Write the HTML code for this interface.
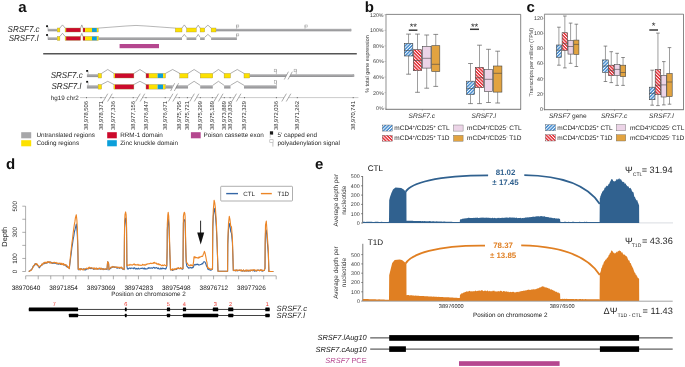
<!DOCTYPE html>
<html><head><meta charset="utf-8"><style>
html,body{margin:0;padding:0;background:#fff;}
body{width:685px;height:367px;overflow:hidden;}
svg{display:block;font-family:"Liberation Sans", sans-serif;text-rendering:geometricPrecision;will-change:transform;}
</style></head><body>
<svg width="685" height="367" viewBox="0 0 685 367">
<text x="18.20" y="12.00" font-size="15" fill="#111" text-anchor="start" font-weight="bold" font-style="normal">a</text>
<text x="364.80" y="11.60" font-size="15" fill="#111" text-anchor="start" font-weight="bold" font-style="normal">b</text>
<text x="526.40" y="11.50" font-size="15" fill="#111" text-anchor="start" font-weight="bold" font-style="normal">c</text>
<text x="6.00" y="168.90" font-size="15" fill="#111" text-anchor="start" font-weight="bold" font-style="normal">d</text>
<text x="314.90" y="168.90" font-size="15" fill="#111" text-anchor="start" font-weight="bold" font-style="normal">e</text>
<defs><linearGradient id="gu" x1="0" y1="0" x2="0" y2="1"><stop offset="0" stop-color="#b0b0b2"/><stop offset="0.55" stop-color="#a2a2a4"/><stop offset="1" stop-color="#8c8c8f"/></linearGradient></defs>
<text transform="translate(39.6,32.4) scale(0.93,1)" font-size="8.6" fill="#1f1f1f" text-anchor="end" font-style="italic">SRSF7.c</text>
<rect x="46.10" y="25.30" width="1.90" height="1.80" fill="#111"/>
<line x1="48.00" y1="26.70" x2="48.00" y2="31.20" stroke="#888" stroke-width="0.5"/>
<rect x="48.00" y="28.80" width="9.30" height="2.50" fill="url(#gu)"/>
<rect x="57.30" y="28.00" width="2.60" height="4.00" fill="#fde100"/>
<rect x="57.30" y="28.00" width="2.60" height="4.00" fill="none" stroke="#9a8a40" stroke-width="0.35"/>
<polyline points="59.90,28.00 62.50,24.90 65.10,28.00" fill="none" stroke="#7a7a7a" stroke-width="0.6"/>
<rect x="65.10" y="28.00" width="1.00" height="4.00" fill="#fde100"/>
<rect x="66.10" y="28.00" width="14.50" height="4.00" fill="#cc0a2c"/>
<rect x="65.10" y="28.00" width="15.50" height="4.00" fill="none" stroke="#9a8a40" stroke-width="0.35"/>
<polyline points="80.60,28.00 81.80,24.90 83.00,28.00" fill="none" stroke="#7a7a7a" stroke-width="0.6"/>
<rect x="83.00" y="28.00" width="2.10" height="4.00" fill="#cc0a2c"/>
<rect x="85.10" y="28.00" width="6.90" height="4.00" fill="#fde100"/>
<rect x="92.00" y="28.00" width="4.90" height="4.00" fill="#0b9fda"/>
<rect x="96.90" y="28.00" width="1.40" height="4.00" fill="#fde100"/>
<rect x="83.00" y="28.00" width="15.30" height="4.00" fill="none" stroke="#9a8a40" stroke-width="0.35"/>
<path d="M98.3,28.1 L126,26.0 Q136,24.9 146,26.0 L175.3,28.1" fill="none" stroke="#7a7a7a" stroke-width="0.55"/>
<rect x="175.30" y="28.00" width="6.70" height="4.00" fill="#fde100"/>
<rect x="175.30" y="28.00" width="6.70" height="4.00" fill="none" stroke="#9a8a40" stroke-width="0.35"/>
<polyline points="182.00,28.00 184.30,24.90 186.60,28.00" fill="none" stroke="#7a7a7a" stroke-width="0.6"/>
<rect x="186.60" y="28.00" width="9.70" height="4.00" fill="#fde100"/>
<rect x="186.60" y="28.00" width="9.70" height="4.00" fill="none" stroke="#9a8a40" stroke-width="0.35"/>
<polyline points="196.30,28.00 198.20,25.20 200.10,28.00" fill="none" stroke="#7a7a7a" stroke-width="0.6"/>
<rect x="200.10" y="28.00" width="4.60" height="4.00" fill="#fde100"/>
<rect x="200.10" y="28.00" width="4.60" height="4.00" fill="none" stroke="#9a8a40" stroke-width="0.35"/>
<polyline points="204.70,28.00 207.90,25.20 211.10,28.00" fill="none" stroke="#7a7a7a" stroke-width="0.6"/>
<rect x="211.10" y="28.00" width="4.90" height="4.00" fill="#fde100"/>
<rect x="211.10" y="28.00" width="4.90" height="4.00" fill="none" stroke="#9a8a40" stroke-width="0.35"/>
<rect x="216.00" y="28.80" width="135.30" height="2.50" fill="url(#gu)"/>
<rect x="349.5" y="28.8" width="1.8" height="2.5" rx="1" fill="#a7a7a9"/>
<line x1="236.60" y1="25.30" x2="236.60" y2="28.80" stroke="#888" stroke-width="0.5"/>
<rect x="236.60" y="25.00" width="2.20" height="2.00" fill="none" stroke="#999" stroke-width="0.5"/>
<line x1="305.00" y1="25.30" x2="305.00" y2="28.80" stroke="#888" stroke-width="0.5"/>
<rect x="305.00" y="25.00" width="2.20" height="2.00" fill="none" stroke="#999" stroke-width="0.5"/>
<text transform="translate(38.5,41.0) scale(0.93,1)" font-size="8.6" fill="#1f1f1f" text-anchor="end" font-style="italic">SRSF7.l</text>
<rect x="46.10" y="34.10" width="1.90" height="1.80" fill="#111"/>
<line x1="48.00" y1="35.50" x2="48.00" y2="39.70" stroke="#888" stroke-width="0.5"/>
<rect x="48.00" y="37.30" width="9.30" height="2.60" fill="url(#gu)"/>
<rect x="57.30" y="36.40" width="2.60" height="4.00" fill="#fde100"/>
<rect x="57.30" y="36.40" width="2.60" height="4.00" fill="none" stroke="#9a8a40" stroke-width="0.35"/>
<polyline points="59.90,36.40 62.50,33.30 65.10,36.40" fill="none" stroke="#7a7a7a" stroke-width="0.6"/>
<rect x="65.10" y="36.40" width="1.00" height="4.00" fill="#fde100"/>
<rect x="66.10" y="36.40" width="14.50" height="4.00" fill="#cc0a2c"/>
<rect x="65.10" y="36.40" width="15.50" height="4.00" fill="none" stroke="#9a8a40" stroke-width="0.35"/>
<polyline points="80.60,36.40 81.80,33.30 83.00,36.40" fill="none" stroke="#7a7a7a" stroke-width="0.6"/>
<rect x="83.00" y="36.40" width="2.10" height="4.00" fill="#cc0a2c"/>
<rect x="85.10" y="36.40" width="6.90" height="4.00" fill="#fde100"/>
<rect x="92.00" y="36.40" width="4.90" height="4.00" fill="#0b9fda"/>
<rect x="96.90" y="36.40" width="1.70" height="4.00" fill="#fde100"/>
<rect x="83.00" y="36.40" width="15.60" height="4.00" fill="none" stroke="#9a8a40" stroke-width="0.35"/>
<rect x="98.60" y="37.30" width="83.40" height="2.60" fill="url(#gu)"/>
<polyline points="182.00,37.30 184.30,34.40 186.60,37.30" fill="none" stroke="#7a7a7a" stroke-width="0.6"/>
<rect x="186.60" y="37.30" width="9.70" height="2.60" fill="url(#gu)"/>
<polyline points="196.30,37.30 198.20,34.40 200.10,37.30" fill="none" stroke="#7a7a7a" stroke-width="0.6"/>
<rect x="200.10" y="37.30" width="4.60" height="2.60" fill="url(#gu)"/>
<polyline points="204.70,37.30 207.90,34.40 211.10,37.30" fill="none" stroke="#7a7a7a" stroke-width="0.6"/>
<rect x="211.10" y="37.30" width="25.80" height="2.60" fill="url(#gu)"/>
<line x1="236.60" y1="34.20" x2="236.60" y2="37.30" stroke="#888" stroke-width="0.5"/>
<rect x="236.60" y="33.90" width="2.20" height="2.00" fill="none" stroke="#999" stroke-width="0.5"/>
<rect x="119.60" y="44.00" width="39.40" height="4.20" fill="#b5478f"/>
<line x1="43.20" y1="53.70" x2="356.80" y2="53.70" stroke="#555" stroke-width="1.6"/>
<text transform="translate(82.7,78.4) scale(0.93,1)" font-size="8.6" fill="#1f1f1f" text-anchor="end" font-style="italic">SRSF7.c</text>
<text transform="translate(81.3,89.3) scale(0.93,1)" font-size="8.6" fill="#1f1f1f" text-anchor="end" font-style="italic">SRSF7.l</text>
<text x="50.80" y="99.60" font-size="6.3" fill="#2a2a2a" text-anchor="start" font-weight="normal" font-style="normal">hg19 chr2</text>
<rect x="86.20" y="70.00" width="1.90" height="1.80" fill="#111"/>
<line x1="88.10" y1="71.40" x2="88.10" y2="76.60" stroke="#888" stroke-width="0.5"/>
<rect x="86.90" y="74.20" width="11.20" height="2.90" fill="url(#gu)"/>
<rect x="98.10" y="73.40" width="3.50" height="4.60" fill="#fde100"/>
<rect x="98.10" y="73.40" width="3.50" height="4.60" fill="none" stroke="#9a8a40" stroke-width="0.35"/>
<polyline points="101.60,73.40 107.75,69.50 113.90,73.40" fill="none" stroke="#7a7a7a" stroke-width="0.6"/>
<rect x="113.90" y="73.40" width="1.10" height="4.60" fill="#fde100"/>
<rect x="115.00" y="73.40" width="18.90" height="4.60" fill="#cc0a2c"/>
<rect x="113.90" y="73.40" width="20.00" height="4.60" fill="none" stroke="#9a8a40" stroke-width="0.35"/>
<polyline points="133.90,73.40 139.95,69.50 146.00,73.40" fill="none" stroke="#7a7a7a" stroke-width="0.6"/>
<rect x="146.00" y="73.40" width="2.90" height="4.60" fill="#cc0a2c"/>
<rect x="148.90" y="73.40" width="8.70" height="4.60" fill="#fde100"/>
<rect x="157.60" y="73.40" width="5.50" height="4.60" fill="#0b9fda"/>
<rect x="163.10" y="73.40" width="2.40" height="4.60" fill="#fde100"/>
<rect x="146.00" y="73.40" width="19.50" height="4.60" fill="none" stroke="#9a8a40" stroke-width="0.35"/>
<polyline points="165.50,73.40 172.65,69.50 179.80,73.40" fill="none" stroke="#7a7a7a" stroke-width="0.6"/>
<rect x="179.80" y="73.40" width="8.20" height="4.60" fill="#fde100"/>
<rect x="179.80" y="73.40" width="8.20" height="4.60" fill="none" stroke="#9a8a40" stroke-width="0.35"/>
<polyline points="188.00,73.40 194.10,69.50 200.20,73.40" fill="none" stroke="#7a7a7a" stroke-width="0.6"/>
<rect x="200.20" y="73.40" width="12.60" height="4.60" fill="#fde100"/>
<rect x="200.20" y="73.40" width="12.60" height="4.60" fill="none" stroke="#9a8a40" stroke-width="0.35"/>
<polyline points="212.80,73.40 218.45,69.50 224.10,73.40" fill="none" stroke="#7a7a7a" stroke-width="0.6"/>
<rect x="224.10" y="73.40" width="6.40" height="4.60" fill="#fde100"/>
<rect x="224.10" y="73.40" width="6.40" height="4.60" fill="none" stroke="#9a8a40" stroke-width="0.35"/>
<polyline points="230.50,73.40 237.25,69.50 244.00,73.40" fill="none" stroke="#7a7a7a" stroke-width="0.6"/>
<rect x="244.00" y="73.40" width="5.80" height="4.60" fill="#fde100"/>
<rect x="244.00" y="73.40" width="5.80" height="4.60" fill="none" stroke="#9a8a40" stroke-width="0.35"/>
<polygon points="249.8,74.20 287.0,74.20 285.6,77.10 249.8,77.10" fill="url(#gu)"/>
<polygon points="290.8,74.20 354.2,74.20 354.2,77.10 289.4,77.10" fill="url(#gu)"/>
<rect x="352.4" y="74.2" width="1.8" height="2.8" rx="1" fill="#a7a7a9"/>
<line x1="284.30" y1="79.50" x2="288.40" y2="71.70" stroke="#666" stroke-width="0.55"/>
<line x1="288.00" y1="79.50" x2="292.30" y2="71.70" stroke="#666" stroke-width="0.55"/>
<line x1="276.40" y1="69.50" x2="276.40" y2="74.20" stroke="#888" stroke-width="0.5"/>
<rect x="274.20" y="69.20" width="2.20" height="2.60" fill="none" stroke="#999" stroke-width="0.5"/>
<line x1="296.30" y1="69.50" x2="296.30" y2="74.20" stroke="#888" stroke-width="0.5"/>
<rect x="294.10" y="69.20" width="2.20" height="2.60" fill="none" stroke="#999" stroke-width="0.5"/>
<rect x="86.20" y="80.90" width="1.90" height="1.80" fill="#111"/>
<line x1="88.10" y1="82.30" x2="88.10" y2="87.70" stroke="#888" stroke-width="0.5"/>
<rect x="86.90" y="85.30" width="11.20" height="3.20" fill="url(#gu)"/>
<rect x="98.10" y="84.50" width="3.50" height="4.60" fill="#fde100"/>
<rect x="98.10" y="84.50" width="3.50" height="4.60" fill="none" stroke="#9a8a40" stroke-width="0.35"/>
<polyline points="101.60,84.50 107.75,81.30 113.90,84.50" fill="none" stroke="#7a7a7a" stroke-width="0.6"/>
<rect x="113.90" y="84.50" width="1.10" height="4.60" fill="#fde100"/>
<rect x="115.00" y="84.50" width="18.90" height="4.60" fill="#cc0a2c"/>
<rect x="113.90" y="84.50" width="20.00" height="4.60" fill="none" stroke="#9a8a40" stroke-width="0.35"/>
<polyline points="133.90,84.50 139.95,81.30 146.00,84.50" fill="none" stroke="#7a7a7a" stroke-width="0.6"/>
<rect x="146.00" y="84.50" width="2.90" height="4.60" fill="#cc0a2c"/>
<rect x="148.90" y="84.50" width="8.70" height="4.60" fill="#fde100"/>
<rect x="157.60" y="84.50" width="5.50" height="4.60" fill="#0b9fda"/>
<rect x="163.10" y="84.50" width="2.40" height="4.60" fill="#fde100"/>
<rect x="146.00" y="84.50" width="19.50" height="4.60" fill="none" stroke="#9a8a40" stroke-width="0.35"/>
<polygon points="165.5,85.30 173.0,85.30 171.6,88.50 165.5,88.50" fill="url(#gu)"/>
<polygon points="176.8,85.30 188.0,85.30 188.0,88.50 175.4,88.50" fill="url(#gu)"/>
<line x1="170.60" y1="91.00" x2="174.70" y2="83.20" stroke="#666" stroke-width="0.55"/>
<line x1="174.30" y1="91.00" x2="178.60" y2="83.20" stroke="#666" stroke-width="0.55"/>
<polyline points="188.00,85.30 194.10,81.30 200.20,85.30" fill="none" stroke="#7a7a7a" stroke-width="0.6"/>
<rect x="200.20" y="85.30" width="12.60" height="3.20" fill="url(#gu)"/>
<polyline points="212.80,85.30 218.45,81.30 224.10,85.30" fill="none" stroke="#7a7a7a" stroke-width="0.6"/>
<rect x="224.10" y="85.30" width="6.40" height="3.20" fill="url(#gu)"/>
<polyline points="230.50,85.30 237.25,81.30 244.00,85.30" fill="none" stroke="#7a7a7a" stroke-width="0.6"/>
<rect x="244.00" y="85.30" width="32.80" height="3.20" fill="url(#gu)"/>
<line x1="276.50" y1="80.90" x2="276.50" y2="85.30" stroke="#888" stroke-width="0.5"/>
<rect x="274.30" y="80.60" width="2.20" height="2.60" fill="none" stroke="#999" stroke-width="0.5"/>
<line x1="80.00" y1="97.60" x2="105.50" y2="97.60" stroke="#b5b5b5" stroke-width="0.7"/>
<line x1="109.90" y1="97.60" x2="138.00" y2="97.60" stroke="#b5b5b5" stroke-width="0.7"/>
<line x1="142.40" y1="97.60" x2="170.70" y2="97.60" stroke="#b5b5b5" stroke-width="0.7"/>
<line x1="175.10" y1="97.60" x2="192.10" y2="97.60" stroke="#b5b5b5" stroke-width="0.7"/>
<line x1="196.50" y1="97.60" x2="216.30" y2="97.60" stroke="#b5b5b5" stroke-width="0.7"/>
<line x1="220.70" y1="97.60" x2="234.20" y2="97.60" stroke="#b5b5b5" stroke-width="0.7"/>
<line x1="238.60" y1="97.60" x2="284.10" y2="97.60" stroke="#b5b5b5" stroke-width="0.7"/>
<line x1="288.50" y1="97.60" x2="358.40" y2="97.60" stroke="#b5b5b5" stroke-width="0.7"/>
<line x1="103.15" y1="101.50" x2="107.75" y2="93.70" stroke="#555" stroke-width="0.5"/>
<line x1="107.65" y1="101.50" x2="112.25" y2="93.70" stroke="#555" stroke-width="0.5"/>
<line x1="135.65" y1="101.50" x2="140.25" y2="93.70" stroke="#555" stroke-width="0.5"/>
<line x1="140.15" y1="101.50" x2="144.75" y2="93.70" stroke="#555" stroke-width="0.5"/>
<line x1="168.35" y1="101.50" x2="172.95" y2="93.70" stroke="#555" stroke-width="0.5"/>
<line x1="172.85" y1="101.50" x2="177.45" y2="93.70" stroke="#555" stroke-width="0.5"/>
<line x1="189.75" y1="101.50" x2="194.35" y2="93.70" stroke="#555" stroke-width="0.5"/>
<line x1="194.25" y1="101.50" x2="198.85" y2="93.70" stroke="#555" stroke-width="0.5"/>
<line x1="213.95" y1="101.50" x2="218.55" y2="93.70" stroke="#555" stroke-width="0.5"/>
<line x1="218.45" y1="101.50" x2="223.05" y2="93.70" stroke="#555" stroke-width="0.5"/>
<line x1="231.85" y1="101.50" x2="236.45" y2="93.70" stroke="#555" stroke-width="0.5"/>
<line x1="236.35" y1="101.50" x2="240.95" y2="93.70" stroke="#555" stroke-width="0.5"/>
<line x1="281.75" y1="101.50" x2="286.35" y2="93.70" stroke="#555" stroke-width="0.5"/>
<line x1="286.25" y1="101.50" x2="290.85" y2="93.70" stroke="#555" stroke-width="0.5"/>
<rect x="86.00" y="97.10" width="1.00" height="1.10" fill="#666"/>
<text transform="translate(88.00,101) rotate(-90)" font-size="5.8" fill="#2a2a2a" text-anchor="end">38,978,506</text>
<rect x="100.50" y="97.10" width="1.00" height="1.10" fill="#666"/>
<text transform="translate(102.50,101) rotate(-90)" font-size="5.8" fill="#2a2a2a" text-anchor="end">38,978,371</text>
<rect x="112.50" y="97.10" width="1.00" height="1.10" fill="#666"/>
<text transform="translate(114.50,101) rotate(-90)" font-size="5.8" fill="#2a2a2a" text-anchor="end">38,977,336</text>
<rect x="132.70" y="97.10" width="1.00" height="1.10" fill="#666"/>
<text transform="translate(134.70,101) rotate(-90)" font-size="5.8" fill="#2a2a2a" text-anchor="end">38,977,156</text>
<rect x="145.50" y="97.10" width="1.00" height="1.10" fill="#666"/>
<text transform="translate(147.50,101) rotate(-90)" font-size="5.8" fill="#2a2a2a" text-anchor="end">38,976,847</text>
<rect x="164.70" y="97.10" width="1.00" height="1.10" fill="#666"/>
<text transform="translate(166.70,101) rotate(-90)" font-size="5.8" fill="#2a2a2a" text-anchor="end">38,976,671</text>
<rect x="178.70" y="97.10" width="1.00" height="1.10" fill="#666"/>
<text transform="translate(180.70,101) rotate(-90)" font-size="5.8" fill="#2a2a2a" text-anchor="end">38,975,795</text>
<rect x="186.90" y="97.10" width="1.00" height="1.10" fill="#666"/>
<text transform="translate(188.90,101) rotate(-90)" font-size="5.8" fill="#2a2a2a" text-anchor="end">38,975,721</text>
<rect x="199.80" y="97.10" width="1.00" height="1.10" fill="#666"/>
<text transform="translate(201.80,101) rotate(-90)" font-size="5.8" fill="#2a2a2a" text-anchor="end">38,975,299</text>
<rect x="211.80" y="97.10" width="1.00" height="1.10" fill="#666"/>
<text transform="translate(213.80,101) rotate(-90)" font-size="5.8" fill="#2a2a2a" text-anchor="end">38,975,189</text>
<rect x="223.80" y="97.10" width="1.00" height="1.10" fill="#666"/>
<text transform="translate(225.80,101) rotate(-90)" font-size="5.8" fill="#2a2a2a" text-anchor="end">38,973,889</text>
<rect x="229.60" y="97.10" width="1.00" height="1.10" fill="#666"/>
<text transform="translate(231.60,101) rotate(-90)" font-size="5.8" fill="#2a2a2a" text-anchor="end">38,973,836</text>
<rect x="244.00" y="97.10" width="1.00" height="1.10" fill="#666"/>
<text transform="translate(246.00,101) rotate(-90)" font-size="5.8" fill="#2a2a2a" text-anchor="end">38,972,329</text>
<rect x="275.90" y="97.10" width="1.00" height="1.10" fill="#666"/>
<text transform="translate(277.90,101) rotate(-90)" font-size="5.8" fill="#2a2a2a" text-anchor="end">38,972,036</text>
<rect x="296.80" y="97.10" width="1.00" height="1.10" fill="#666"/>
<text transform="translate(298.80,101) rotate(-90)" font-size="5.8" fill="#2a2a2a" text-anchor="end">38,971,262</text>
<rect x="352.70" y="97.10" width="1.00" height="1.10" fill="#666"/>
<text transform="translate(354.70,101) rotate(-90)" font-size="5.8" fill="#2a2a2a" text-anchor="end">38,970,741</text>
<rect x="21.20" y="132.20" width="10.00" height="6.10" fill="#a7a7a9"/>
<rect x="21.20" y="140.20" width="10.00" height="6.10" fill="#fde100"/>
<text x="36.40" y="137.30" font-size="6.35" fill="#1f1f1f" text-anchor="start" font-weight="normal" font-style="normal">Untranslated regions</text>
<text x="36.40" y="144.90" font-size="6.35" fill="#1f1f1f" text-anchor="start" font-weight="normal" font-style="normal">Coding regions</text>
<rect x="107.20" y="132.20" width="9.60" height="6.10" fill="#cc0a2c"/>
<rect x="107.20" y="140.20" width="9.60" height="6.10" fill="#0b9fda"/>
<text x="120.20" y="137.30" font-size="6.35" fill="#1f1f1f" text-anchor="start" font-weight="normal" font-style="normal">RRM-1 domain</text>
<text x="120.20" y="144.90" font-size="6.35" fill="#1f1f1f" text-anchor="start" font-weight="normal" font-style="normal">Zinc knuckle domain</text>
<rect x="190.90" y="132.20" width="9.80" height="6.10" fill="#b5478f"/>
<text x="203.50" y="137.30" font-size="6.35" fill="#1f1f1f" text-anchor="start" font-weight="normal" font-style="normal">Poison cassette exon</text>
<rect x="269.90" y="131.30" width="3.20" height="3.30" fill="#1a1a1a"/>
<line x1="270.20" y1="134.40" x2="270.20" y2="138.00" stroke="#bbb" stroke-width="0.6"/>
<text x="277.50" y="137.30" font-size="6.35" fill="#1f1f1f" text-anchor="start" font-weight="normal" font-style="normal">5’ capped end</text>
<line x1="272.90" y1="142.60" x2="272.90" y2="146.60" stroke="#999" stroke-width="0.6"/>
<rect x="269.8" y="139.7" width="3.3" height="2.9" fill="none" stroke="#aaa" stroke-width="0.6"/>
<text x="277.50" y="144.90" font-size="6.35" fill="#1f1f1f" text-anchor="start" font-weight="normal" font-style="normal">polyadenylation signal</text>
<defs>
<pattern id="hb" patternUnits="userSpaceOnUse" width="2.35" height="3" patternTransform="rotate(45)">
<rect width="2.35" height="3" fill="#3a85cc"/><rect width="0.95" height="3" fill="#ffffff"/></pattern>
<pattern id="hr" patternUnits="userSpaceOnUse" width="2.35" height="3" patternTransform="rotate(-45)">
<rect width="2.35" height="3" fill="#e2222b"/><rect width="0.95" height="3" fill="#ffffff"/></pattern>
</defs>
<path d="M386.0,14.4 H520.7 V109.3" fill="none" stroke="#555" stroke-width="0.7"/>
<line x1="386.00" y1="14.10" x2="386.00" y2="109.80" stroke="#9a9a9a" stroke-width="1.1"/>
<line x1="385.50" y1="109.30" x2="521.05" y2="109.30" stroke="#666" stroke-width="0.9"/>
<line x1="384.40" y1="108.20" x2="386.00" y2="108.20" stroke="#999" stroke-width="0.5"/>
<text x="383.60" y="110.10" font-size="5.3" fill="#3a3a3a" text-anchor="end" font-weight="normal" font-style="normal">0%</text>
<line x1="384.40" y1="92.63" x2="386.00" y2="92.63" stroke="#999" stroke-width="0.5"/>
<text x="383.60" y="94.53" font-size="5.3" fill="#3a3a3a" text-anchor="end" font-weight="normal" font-style="normal">20%</text>
<line x1="384.40" y1="77.06" x2="386.00" y2="77.06" stroke="#999" stroke-width="0.5"/>
<text x="383.60" y="78.96" font-size="5.3" fill="#3a3a3a" text-anchor="end" font-weight="normal" font-style="normal">40%</text>
<line x1="384.40" y1="61.49" x2="386.00" y2="61.49" stroke="#999" stroke-width="0.5"/>
<text x="383.60" y="63.39" font-size="5.3" fill="#3a3a3a" text-anchor="end" font-weight="normal" font-style="normal">60%</text>
<line x1="384.40" y1="45.92" x2="386.00" y2="45.92" stroke="#999" stroke-width="0.5"/>
<text x="383.60" y="47.82" font-size="5.3" fill="#3a3a3a" text-anchor="end" font-weight="normal" font-style="normal">80%</text>
<line x1="384.40" y1="30.35" x2="386.00" y2="30.35" stroke="#999" stroke-width="0.5"/>
<text x="383.60" y="32.25" font-size="5.3" fill="#3a3a3a" text-anchor="end" font-weight="normal" font-style="normal">100%</text>
<line x1="384.40" y1="14.78" x2="386.00" y2="14.78" stroke="#999" stroke-width="0.5"/>
<text x="383.60" y="16.68" font-size="5.3" fill="#3a3a3a" text-anchor="end" font-weight="normal" font-style="normal">120%</text>
<text transform="translate(369.4,64) rotate(-90)" font-size="5.4" fill="#3a3a3a" text-anchor="middle">% total gene expression</text>
<line x1="408.55" y1="34.10" x2="408.55" y2="43.30" stroke="#5c5c5c" stroke-width="0.6"/>
<line x1="408.55" y1="56.00" x2="408.55" y2="74.20" stroke="#5c5c5c" stroke-width="0.6"/>
<line x1="406.15" y1="34.10" x2="410.95" y2="34.10" stroke="#5c5c5c" stroke-width="0.7"/>
<line x1="406.15" y1="74.20" x2="410.95" y2="74.20" stroke="#5c5c5c" stroke-width="0.7"/>
<rect x="404.30" y="43.30" width="8.50" height="12.70" fill="url(#hb)" stroke="#464646" stroke-width="0.6"/>
<line x1="404.30" y1="50.50" x2="412.80" y2="50.50" stroke="#464646" stroke-width="0.6"/>
<line x1="417.50" y1="34.10" x2="417.50" y2="49.70" stroke="#5c5c5c" stroke-width="0.6"/>
<line x1="417.50" y1="70.70" x2="417.50" y2="92.30" stroke="#5c5c5c" stroke-width="0.6"/>
<line x1="415.10" y1="34.10" x2="419.90" y2="34.10" stroke="#5c5c5c" stroke-width="0.7"/>
<line x1="415.10" y1="92.30" x2="419.90" y2="92.30" stroke="#5c5c5c" stroke-width="0.7"/>
<rect x="413.30" y="49.70" width="8.40" height="21.00" fill="url(#hr)" stroke="#464646" stroke-width="0.6"/>
<line x1="413.30" y1="60.50" x2="421.70" y2="60.50" stroke="#464646" stroke-width="0.6"/>
<line x1="426.70" y1="35.00" x2="426.70" y2="46.40" stroke="#5c5c5c" stroke-width="0.6"/>
<line x1="426.70" y1="68.10" x2="426.70" y2="88.20" stroke="#5c5c5c" stroke-width="0.6"/>
<line x1="424.30" y1="35.00" x2="429.10" y2="35.00" stroke="#5c5c5c" stroke-width="0.7"/>
<line x1="424.30" y1="88.20" x2="429.10" y2="88.20" stroke="#5c5c5c" stroke-width="0.7"/>
<rect x="422.40" y="46.40" width="8.60" height="21.70" fill="#ecd4e7" stroke="#464646" stroke-width="0.6"/>
<line x1="422.40" y1="58.30" x2="431.00" y2="58.30" stroke="#464646" stroke-width="0.6"/>
<line x1="435.75" y1="34.40" x2="435.75" y2="45.70" stroke="#5c5c5c" stroke-width="0.6"/>
<line x1="435.75" y1="71.50" x2="435.75" y2="86.40" stroke="#5c5c5c" stroke-width="0.6"/>
<line x1="433.35" y1="34.40" x2="438.15" y2="34.40" stroke="#5c5c5c" stroke-width="0.7"/>
<line x1="433.35" y1="86.40" x2="438.15" y2="86.40" stroke="#5c5c5c" stroke-width="0.7"/>
<rect x="431.70" y="45.70" width="8.10" height="25.80" fill="#e2a340" stroke="#464646" stroke-width="0.6"/>
<line x1="431.70" y1="64.30" x2="439.80" y2="64.30" stroke="#464646" stroke-width="0.6"/>
<line x1="470.50" y1="63.50" x2="470.50" y2="81.20" stroke="#5c5c5c" stroke-width="0.6"/>
<line x1="470.50" y1="94.60" x2="470.50" y2="103.60" stroke="#5c5c5c" stroke-width="0.6"/>
<line x1="468.10" y1="63.50" x2="472.90" y2="63.50" stroke="#5c5c5c" stroke-width="0.7"/>
<line x1="468.10" y1="103.60" x2="472.90" y2="103.60" stroke="#5c5c5c" stroke-width="0.7"/>
<rect x="466.40" y="81.20" width="8.20" height="13.40" fill="url(#hb)" stroke="#464646" stroke-width="0.6"/>
<line x1="466.40" y1="88.60" x2="474.60" y2="88.60" stroke="#464646" stroke-width="0.6"/>
<line x1="479.50" y1="45.20" x2="479.50" y2="67.30" stroke="#5c5c5c" stroke-width="0.6"/>
<line x1="479.50" y1="87.70" x2="479.50" y2="103.60" stroke="#5c5c5c" stroke-width="0.6"/>
<line x1="477.10" y1="45.20" x2="481.90" y2="45.20" stroke="#5c5c5c" stroke-width="0.7"/>
<line x1="477.10" y1="103.60" x2="481.90" y2="103.60" stroke="#5c5c5c" stroke-width="0.7"/>
<rect x="475.40" y="67.30" width="8.20" height="20.40" fill="url(#hr)" stroke="#464646" stroke-width="0.6"/>
<line x1="475.40" y1="77.70" x2="483.60" y2="77.70" stroke="#464646" stroke-width="0.6"/>
<line x1="488.50" y1="49.30" x2="488.50" y2="69.50" stroke="#5c5c5c" stroke-width="0.6"/>
<line x1="488.50" y1="91.60" x2="488.50" y2="102.50" stroke="#5c5c5c" stroke-width="0.6"/>
<line x1="486.10" y1="49.30" x2="490.90" y2="49.30" stroke="#5c5c5c" stroke-width="0.7"/>
<line x1="486.10" y1="102.50" x2="490.90" y2="102.50" stroke="#5c5c5c" stroke-width="0.7"/>
<rect x="484.40" y="69.50" width="8.20" height="22.10" fill="#ecd4e7" stroke="#464646" stroke-width="0.6"/>
<line x1="484.40" y1="79.30" x2="492.60" y2="79.30" stroke="#464646" stroke-width="0.6"/>
<line x1="497.65" y1="51.20" x2="497.65" y2="66.00" stroke="#5c5c5c" stroke-width="0.6"/>
<line x1="497.65" y1="92.10" x2="497.65" y2="103.00" stroke="#5c5c5c" stroke-width="0.6"/>
<line x1="495.25" y1="51.20" x2="500.05" y2="51.20" stroke="#5c5c5c" stroke-width="0.7"/>
<line x1="495.25" y1="103.00" x2="500.05" y2="103.00" stroke="#5c5c5c" stroke-width="0.7"/>
<rect x="493.40" y="66.00" width="8.50" height="26.10" fill="#e2a340" stroke="#464646" stroke-width="0.6"/>
<line x1="493.40" y1="73.30" x2="501.90" y2="73.30" stroke="#464646" stroke-width="0.6"/>
<line x1="422.30" y1="109.30" x2="422.30" y2="110.60" stroke="#666" stroke-width="0.5"/>
<line x1="484.00" y1="109.30" x2="484.00" y2="110.60" stroke="#666" stroke-width="0.5"/>
<text x="421.80" y="117.80" font-size="6.6" fill="#2a2a2a" text-anchor="middle" font-weight="normal" font-style="italic">SRSF7.c</text>
<text x="483.80" y="117.80" font-size="6.6" fill="#2a2a2a" text-anchor="middle" font-weight="normal" font-style="italic">SRSF7.l</text>
<line x1="408.80" y1="30.20" x2="417.40" y2="30.20" stroke="#3a3a3a" stroke-width="1.5"/>
<text x="413.35" y="29.70" font-size="9.5" fill="#1f1f1f" text-anchor="middle" font-weight="normal" font-style="normal">**</text>
<line x1="470.00" y1="29.30" x2="479.00" y2="29.30" stroke="#3a3a3a" stroke-width="1.5"/>
<text x="474.60" y="29.70" font-size="9.5" fill="#1f1f1f" text-anchor="middle" font-weight="normal" font-style="normal">**</text>
<rect x="382.20" y="125.00" width="10.20" height="6.10" fill="url(#hb)" stroke="#666" stroke-width="0.4"/>
<rect x="382.20" y="135.30" width="10.20" height="5.90" fill="url(#hr)" stroke="#666" stroke-width="0.4"/>
<rect x="453.50" y="125.00" width="9.60" height="6.10" fill="#ecd4e7" stroke="#666" stroke-width="0.4"/>
<rect x="453.50" y="135.30" width="9.60" height="5.90" fill="#e2a340" stroke="#666" stroke-width="0.4"/>
<text x="394.30" y="130.30" font-size="6.5" fill="#1f1f1f">mCD4<tspan font-size="3.8" dy="-2.3">+</tspan><tspan dy="2.3">/CD25</tspan><tspan font-size="3.8" dy="-2.3">+</tspan><tspan dy="2.3"> CTL</tspan></text>
<text x="394.30" y="140.30" font-size="6.5" fill="#1f1f1f">mCD4<tspan font-size="3.8" dy="-2.3">+</tspan><tspan dy="2.3">/CD25</tspan><tspan font-size="3.8" dy="-2.3">+</tspan><tspan dy="2.3"> T1D</tspan></text>
<text x="467.10" y="130.30" font-size="6.5" fill="#1f1f1f">mCD4<tspan font-size="3.8" dy="-2.3">+</tspan><tspan dy="2.3">/CD25</tspan><tspan font-size="3.8" dy="-2.3">-</tspan><tspan dy="2.3"> CTL</tspan></text>
<text x="467.10" y="140.30" font-size="6.5" fill="#1f1f1f">mCD4<tspan font-size="3.8" dy="-2.3">+</tspan><tspan dy="2.3">/CD25</tspan><tspan font-size="3.8" dy="-2.3">-</tspan><tspan dy="2.3"> T1D</tspan></text>
<path d="M544.5,14.2 H683.5 V109.7" fill="none" stroke="#555" stroke-width="0.7"/>
<line x1="544.50" y1="13.90" x2="544.50" y2="110.20" stroke="#9a9a9a" stroke-width="1.1"/>
<line x1="544.00" y1="109.70" x2="683.85" y2="109.70" stroke="#666" stroke-width="0.9"/>
<line x1="543.00" y1="108.80" x2="544.50" y2="108.80" stroke="#999" stroke-width="0.5"/>
<text x="542.90" y="110.70" font-size="5.3" fill="#3a3a3a" text-anchor="end" font-weight="normal" font-style="normal">0</text>
<line x1="543.00" y1="93.72" x2="544.50" y2="93.72" stroke="#999" stroke-width="0.5"/>
<text x="542.90" y="95.62" font-size="5.3" fill="#3a3a3a" text-anchor="end" font-weight="normal" font-style="normal">20</text>
<line x1="543.00" y1="78.64" x2="544.50" y2="78.64" stroke="#999" stroke-width="0.5"/>
<text x="542.90" y="80.54" font-size="5.3" fill="#3a3a3a" text-anchor="end" font-weight="normal" font-style="normal">40</text>
<line x1="543.00" y1="63.56" x2="544.50" y2="63.56" stroke="#999" stroke-width="0.5"/>
<text x="542.90" y="65.46" font-size="5.3" fill="#3a3a3a" text-anchor="end" font-weight="normal" font-style="normal">60</text>
<line x1="543.00" y1="48.48" x2="544.50" y2="48.48" stroke="#999" stroke-width="0.5"/>
<text x="542.90" y="50.38" font-size="5.3" fill="#3a3a3a" text-anchor="end" font-weight="normal" font-style="normal">80</text>
<line x1="543.00" y1="33.40" x2="544.50" y2="33.40" stroke="#999" stroke-width="0.5"/>
<text x="542.90" y="35.30" font-size="5.3" fill="#3a3a3a" text-anchor="end" font-weight="normal" font-style="normal">100</text>
<line x1="543.00" y1="18.32" x2="544.50" y2="18.32" stroke="#999" stroke-width="0.5"/>
<text x="542.90" y="20.22" font-size="5.3" fill="#3a3a3a" text-anchor="end" font-weight="normal" font-style="normal">120</text>
<text transform="translate(533.1,62.2) rotate(-90)" font-size="5.35" fill="#3a3a3a" text-anchor="middle">Transcripts per million (TPM)</text>
<line x1="558.90" y1="27.20" x2="558.90" y2="45.00" stroke="#5c5c5c" stroke-width="0.6"/>
<line x1="558.90" y1="57.50" x2="558.90" y2="65.20" stroke="#5c5c5c" stroke-width="0.6"/>
<line x1="557.10" y1="27.20" x2="560.70" y2="27.20" stroke="#5c5c5c" stroke-width="0.7"/>
<line x1="557.10" y1="65.20" x2="560.70" y2="65.20" stroke="#5c5c5c" stroke-width="0.7"/>
<rect x="556.30" y="45.00" width="5.20" height="12.50" fill="url(#hb)" stroke="#464646" stroke-width="0.6"/>
<line x1="556.30" y1="50.20" x2="561.50" y2="50.20" stroke="#464646" stroke-width="0.6"/>
<line x1="564.85" y1="16.00" x2="564.85" y2="32.70" stroke="#5c5c5c" stroke-width="0.6"/>
<line x1="564.85" y1="50.50" x2="564.85" y2="67.90" stroke="#5c5c5c" stroke-width="0.6"/>
<line x1="563.05" y1="16.00" x2="566.65" y2="16.00" stroke="#5c5c5c" stroke-width="0.7"/>
<line x1="563.05" y1="67.90" x2="566.65" y2="67.90" stroke="#5c5c5c" stroke-width="0.7"/>
<rect x="562.10" y="32.70" width="5.50" height="17.80" fill="url(#hr)" stroke="#464646" stroke-width="0.6"/>
<line x1="562.10" y1="43.70" x2="567.60" y2="43.70" stroke="#464646" stroke-width="0.6"/>
<line x1="570.60" y1="23.10" x2="570.60" y2="40.60" stroke="#5c5c5c" stroke-width="0.6"/>
<line x1="570.60" y1="54.10" x2="570.60" y2="63.30" stroke="#5c5c5c" stroke-width="0.6"/>
<line x1="568.80" y1="23.10" x2="572.40" y2="23.10" stroke="#5c5c5c" stroke-width="0.7"/>
<line x1="568.80" y1="63.30" x2="572.40" y2="63.30" stroke="#5c5c5c" stroke-width="0.7"/>
<rect x="568.00" y="40.60" width="5.20" height="13.50" fill="#ecd4e7" stroke="#464646" stroke-width="0.6"/>
<line x1="568.00" y1="46.50" x2="573.20" y2="46.50" stroke="#464646" stroke-width="0.6"/>
<line x1="576.35" y1="24.20" x2="576.35" y2="40.10" stroke="#5c5c5c" stroke-width="0.6"/>
<line x1="576.35" y1="54.40" x2="576.35" y2="66.50" stroke="#5c5c5c" stroke-width="0.6"/>
<line x1="574.55" y1="24.20" x2="578.15" y2="24.20" stroke="#5c5c5c" stroke-width="0.7"/>
<line x1="574.55" y1="66.50" x2="578.15" y2="66.50" stroke="#5c5c5c" stroke-width="0.7"/>
<rect x="573.80" y="40.10" width="5.10" height="14.30" fill="#e2a340" stroke="#464646" stroke-width="0.6"/>
<line x1="573.80" y1="44.40" x2="578.90" y2="44.40" stroke="#464646" stroke-width="0.6"/>
<line x1="605.45" y1="46.10" x2="605.45" y2="59.90" stroke="#5c5c5c" stroke-width="0.6"/>
<line x1="605.45" y1="72.50" x2="605.45" y2="81.50" stroke="#5c5c5c" stroke-width="0.6"/>
<line x1="603.65" y1="46.10" x2="607.25" y2="46.10" stroke="#5c5c5c" stroke-width="0.7"/>
<line x1="603.65" y1="81.50" x2="607.25" y2="81.50" stroke="#5c5c5c" stroke-width="0.7"/>
<rect x="602.60" y="59.90" width="5.70" height="12.60" fill="url(#hb)" stroke="#464646" stroke-width="0.6"/>
<line x1="602.60" y1="66.00" x2="608.30" y2="66.00" stroke="#464646" stroke-width="0.6"/>
<line x1="611.25" y1="51.70" x2="611.25" y2="65.20" stroke="#5c5c5c" stroke-width="0.6"/>
<line x1="611.25" y1="75.60" x2="611.25" y2="82.60" stroke="#5c5c5c" stroke-width="0.6"/>
<line x1="609.45" y1="51.70" x2="613.05" y2="51.70" stroke="#5c5c5c" stroke-width="0.7"/>
<line x1="609.45" y1="82.60" x2="613.05" y2="82.60" stroke="#5c5c5c" stroke-width="0.7"/>
<rect x="608.50" y="65.20" width="5.50" height="10.40" fill="url(#hr)" stroke="#464646" stroke-width="0.6"/>
<line x1="608.50" y1="70.70" x2="614.00" y2="70.70" stroke="#464646" stroke-width="0.6"/>
<line x1="617.15" y1="53.30" x2="617.15" y2="64.50" stroke="#5c5c5c" stroke-width="0.6"/>
<line x1="617.15" y1="75.30" x2="617.15" y2="85.40" stroke="#5c5c5c" stroke-width="0.6"/>
<line x1="615.35" y1="53.30" x2="618.95" y2="53.30" stroke="#5c5c5c" stroke-width="0.7"/>
<line x1="615.35" y1="85.40" x2="618.95" y2="85.40" stroke="#5c5c5c" stroke-width="0.7"/>
<rect x="614.40" y="64.50" width="5.50" height="10.80" fill="#ecd4e7" stroke="#464646" stroke-width="0.6"/>
<line x1="614.40" y1="69.40" x2="619.90" y2="69.40" stroke="#464646" stroke-width="0.6"/>
<line x1="623.05" y1="57.50" x2="623.05" y2="65.20" stroke="#5c5c5c" stroke-width="0.6"/>
<line x1="623.05" y1="76.60" x2="623.05" y2="85.40" stroke="#5c5c5c" stroke-width="0.6"/>
<line x1="621.25" y1="57.50" x2="624.85" y2="57.50" stroke="#5c5c5c" stroke-width="0.7"/>
<line x1="621.25" y1="85.40" x2="624.85" y2="85.40" stroke="#5c5c5c" stroke-width="0.7"/>
<rect x="620.40" y="65.20" width="5.30" height="11.40" fill="#e2a340" stroke="#464646" stroke-width="0.6"/>
<line x1="620.40" y1="72.50" x2="625.70" y2="72.50" stroke="#464646" stroke-width="0.6"/>
<line x1="652.15" y1="70.20" x2="652.15" y2="87.20" stroke="#5c5c5c" stroke-width="0.6"/>
<line x1="652.15" y1="99.70" x2="652.15" y2="105.20" stroke="#5c5c5c" stroke-width="0.6"/>
<line x1="650.35" y1="70.20" x2="653.95" y2="70.20" stroke="#5c5c5c" stroke-width="0.7"/>
<line x1="650.35" y1="105.20" x2="653.95" y2="105.20" stroke="#5c5c5c" stroke-width="0.7"/>
<rect x="649.30" y="87.20" width="5.70" height="12.50" fill="url(#hb)" stroke="#464646" stroke-width="0.6"/>
<line x1="649.30" y1="93.30" x2="655.00" y2="93.30" stroke="#464646" stroke-width="0.6"/>
<line x1="657.95" y1="33.10" x2="657.95" y2="69.50" stroke="#5c5c5c" stroke-width="0.6"/>
<line x1="657.95" y1="94.70" x2="657.95" y2="105.60" stroke="#5c5c5c" stroke-width="0.6"/>
<line x1="656.15" y1="33.10" x2="659.75" y2="33.10" stroke="#5c5c5c" stroke-width="0.7"/>
<line x1="656.15" y1="105.60" x2="659.75" y2="105.60" stroke="#5c5c5c" stroke-width="0.7"/>
<rect x="655.20" y="69.50" width="5.50" height="25.20" fill="url(#hr)" stroke="#464646" stroke-width="0.6"/>
<line x1="655.20" y1="85.20" x2="660.70" y2="85.20" stroke="#464646" stroke-width="0.6"/>
<line x1="663.80" y1="61.60" x2="663.80" y2="75.40" stroke="#5c5c5c" stroke-width="0.6"/>
<line x1="663.80" y1="97.00" x2="663.80" y2="104.90" stroke="#5c5c5c" stroke-width="0.6"/>
<line x1="662.00" y1="61.60" x2="665.60" y2="61.60" stroke="#5c5c5c" stroke-width="0.7"/>
<line x1="662.00" y1="104.90" x2="665.60" y2="104.90" stroke="#5c5c5c" stroke-width="0.7"/>
<rect x="661.10" y="75.40" width="5.40" height="21.60" fill="#ecd4e7" stroke="#464646" stroke-width="0.6"/>
<line x1="661.10" y1="84.90" x2="666.50" y2="84.90" stroke="#464646" stroke-width="0.6"/>
<line x1="669.50" y1="47.60" x2="669.50" y2="73.60" stroke="#5c5c5c" stroke-width="0.6"/>
<line x1="669.50" y1="96.50" x2="669.50" y2="104.20" stroke="#5c5c5c" stroke-width="0.6"/>
<line x1="667.70" y1="47.60" x2="671.30" y2="47.60" stroke="#5c5c5c" stroke-width="0.7"/>
<line x1="667.70" y1="104.20" x2="671.30" y2="104.20" stroke="#5c5c5c" stroke-width="0.7"/>
<rect x="666.80" y="73.60" width="5.40" height="22.90" fill="#e2a340" stroke="#464646" stroke-width="0.6"/>
<line x1="666.80" y1="82.00" x2="672.20" y2="82.00" stroke="#464646" stroke-width="0.6"/>
<line x1="567.50" y1="109.70" x2="567.50" y2="111.00" stroke="#666" stroke-width="0.5"/>
<line x1="614.50" y1="109.70" x2="614.50" y2="111.00" stroke="#666" stroke-width="0.5"/>
<line x1="661.70" y1="109.70" x2="661.70" y2="111.00" stroke="#666" stroke-width="0.5"/>
<text x="567.8" y="117.8" font-size="6.6" fill="#2a2a2a" text-anchor="middle"><tspan font-style="italic">SRSF7</tspan> gene</text>
<text x="614.10" y="117.80" font-size="6.6" fill="#2a2a2a" text-anchor="middle" font-weight="normal" font-style="italic">SRSF7.c</text>
<text x="661.40" y="117.80" font-size="6.6" fill="#2a2a2a" text-anchor="middle" font-weight="normal" font-style="italic">SRSF7.l</text>
<line x1="649.30" y1="30.00" x2="658.00" y2="30.00" stroke="#3a3a3a" stroke-width="1.5"/>
<text x="653.60" y="29.10" font-size="9.5" fill="#1f1f1f" text-anchor="middle" font-weight="normal" font-style="normal">*</text>
<rect x="545.30" y="124.60" width="10.20" height="6.20" fill="url(#hb)" stroke="#666" stroke-width="0.4"/>
<rect x="545.30" y="134.70" width="10.20" height="6.30" fill="url(#hr)" stroke="#666" stroke-width="0.4"/>
<rect x="616.20" y="124.60" width="9.60" height="6.20" fill="#ecd4e7" stroke="#666" stroke-width="0.4"/>
<rect x="616.20" y="134.70" width="9.60" height="6.30" fill="#e2a340" stroke="#666" stroke-width="0.4"/>
<text x="557.30" y="130.00" font-size="6.5" fill="#1f1f1f">mCD4<tspan font-size="3.8" dy="-2.3">+</tspan><tspan dy="2.3">/CD25</tspan><tspan font-size="3.8" dy="-2.3">+</tspan><tspan dy="2.3"> CTL</tspan></text>
<text x="557.30" y="140.10" font-size="6.5" fill="#1f1f1f">mCD4<tspan font-size="3.8" dy="-2.3">+</tspan><tspan dy="2.3">/CD25</tspan><tspan font-size="3.8" dy="-2.3">+</tspan><tspan dy="2.3"> T1D</tspan></text>
<text x="629.90" y="130.00" font-size="6.5" fill="#1f1f1f">mCD4<tspan font-size="3.8" dy="-2.3">+</tspan><tspan dy="2.3">/CD25</tspan><tspan font-size="3.8" dy="-2.3">-</tspan><tspan dy="2.3"> CTL</tspan></text>
<text x="629.90" y="140.10" font-size="6.5" fill="#1f1f1f">mCD4<tspan font-size="3.8" dy="-2.3">+</tspan><tspan dy="2.3">/CD25</tspan><tspan font-size="3.8" dy="-2.3">-</tspan><tspan dy="2.3"> T1D</tspan></text>
<line x1="25.60" y1="206.20" x2="25.60" y2="271.50" stroke="#777" stroke-width="0.6"/>
<line x1="22.30" y1="271.50" x2="25.60" y2="271.50" stroke="#777" stroke-width="0.6"/>
<line x1="22.30" y1="258.44" x2="25.60" y2="258.44" stroke="#777" stroke-width="0.6"/>
<line x1="22.30" y1="245.38" x2="25.60" y2="245.38" stroke="#777" stroke-width="0.6"/>
<line x1="22.30" y1="232.32" x2="25.60" y2="232.32" stroke="#777" stroke-width="0.6"/>
<line x1="22.30" y1="219.26" x2="25.60" y2="219.26" stroke="#777" stroke-width="0.6"/>
<line x1="22.30" y1="206.20" x2="25.60" y2="206.20" stroke="#777" stroke-width="0.6"/>
<text transform="translate(17.0,206.20) rotate(-90)" font-size="6.3" fill="#1f1f1f" text-anchor="middle">500</text>
<text transform="translate(17.0,232.30) rotate(-90)" font-size="6.3" fill="#1f1f1f" text-anchor="middle">300</text>
<text transform="translate(17.0,258.40) rotate(-90)" font-size="6.3" fill="#1f1f1f" text-anchor="middle">100</text>
<text transform="translate(17.0,271.50) rotate(-90)" font-size="6.3" fill="#1f1f1f" text-anchor="middle">0</text>
<text transform="translate(6.6,236.8) rotate(-90)" font-size="7.4" fill="#1f1f1f" text-anchor="middle">Depth</text>
<line x1="25.70" y1="275.80" x2="276.20" y2="275.80" stroke="#777" stroke-width="0.6"/>
<line x1="25.70" y1="275.80" x2="25.70" y2="279.30" stroke="#777" stroke-width="0.6"/>
<line x1="38.23" y1="275.80" x2="38.23" y2="279.30" stroke="#777" stroke-width="0.6"/>
<line x1="50.75" y1="275.80" x2="50.75" y2="279.30" stroke="#777" stroke-width="0.6"/>
<line x1="63.28" y1="275.80" x2="63.28" y2="279.30" stroke="#777" stroke-width="0.6"/>
<line x1="75.80" y1="275.80" x2="75.80" y2="279.30" stroke="#777" stroke-width="0.6"/>
<line x1="88.33" y1="275.80" x2="88.33" y2="279.30" stroke="#777" stroke-width="0.6"/>
<line x1="100.85" y1="275.80" x2="100.85" y2="279.30" stroke="#777" stroke-width="0.6"/>
<line x1="113.38" y1="275.80" x2="113.38" y2="279.30" stroke="#777" stroke-width="0.6"/>
<line x1="125.90" y1="275.80" x2="125.90" y2="279.30" stroke="#777" stroke-width="0.6"/>
<line x1="138.43" y1="275.80" x2="138.43" y2="279.30" stroke="#777" stroke-width="0.6"/>
<line x1="150.95" y1="275.80" x2="150.95" y2="279.30" stroke="#777" stroke-width="0.6"/>
<line x1="163.47" y1="275.80" x2="163.47" y2="279.30" stroke="#777" stroke-width="0.6"/>
<line x1="176.00" y1="275.80" x2="176.00" y2="279.30" stroke="#777" stroke-width="0.6"/>
<line x1="188.53" y1="275.80" x2="188.53" y2="279.30" stroke="#777" stroke-width="0.6"/>
<line x1="201.05" y1="275.80" x2="201.05" y2="279.30" stroke="#777" stroke-width="0.6"/>
<line x1="213.57" y1="275.80" x2="213.57" y2="279.30" stroke="#777" stroke-width="0.6"/>
<line x1="226.10" y1="275.80" x2="226.10" y2="279.30" stroke="#777" stroke-width="0.6"/>
<line x1="238.62" y1="275.80" x2="238.62" y2="279.30" stroke="#777" stroke-width="0.6"/>
<line x1="251.15" y1="275.80" x2="251.15" y2="279.30" stroke="#777" stroke-width="0.6"/>
<line x1="263.68" y1="275.80" x2="263.68" y2="279.30" stroke="#777" stroke-width="0.6"/>
<line x1="276.20" y1="275.80" x2="276.20" y2="279.30" stroke="#777" stroke-width="0.6"/>
<text x="26.00" y="290.00" font-size="6.45" fill="#151515" text-anchor="middle" font-weight="normal" font-style="normal">38970640</text>
<text x="63.58" y="290.00" font-size="6.45" fill="#151515" text-anchor="middle" font-weight="normal" font-style="normal">38971854</text>
<text x="101.15" y="290.00" font-size="6.45" fill="#151515" text-anchor="middle" font-weight="normal" font-style="normal">38973069</text>
<text x="138.73" y="290.00" font-size="6.45" fill="#151515" text-anchor="middle" font-weight="normal" font-style="normal">38974283</text>
<text x="176.30" y="290.00" font-size="6.45" fill="#151515" text-anchor="middle" font-weight="normal" font-style="normal">38975498</text>
<text x="213.88" y="290.00" font-size="6.45" fill="#151515" text-anchor="middle" font-weight="normal" font-style="normal">38976712</text>
<text x="251.45" y="290.00" font-size="6.45" fill="#151515" text-anchor="middle" font-weight="normal" font-style="normal">38977926</text>
<text x="148.60" y="296.40" font-size="6.3" fill="#1f1f1f" text-anchor="middle" font-weight="normal" font-style="normal">Position on chromosome 2</text>
<polyline points="28.70,271.50 29.25,271.18 29.80,270.87 30.35,270.24 30.90,270.29 31.42,269.31 31.95,268.81 32.48,268.06 33.00,266.61 33.58,265.73 34.15,265.89 34.72,264.37 35.30,263.52 35.82,264.65 36.35,264.24 36.88,264.90 37.40,264.68 38.00,265.88 38.60,266.30 39.20,267.88 39.70,267.45 40.20,266.32 40.70,265.87 41.25,265.43 41.80,264.35 42.35,264.83 42.90,264.27 43.45,263.57 44.00,262.89 44.54,263.71 45.08,263.05 45.61,263.17 46.15,263.18 46.69,262.80 47.22,262.86 47.76,262.05 48.30,262.36 48.85,262.06 49.40,262.78 49.95,262.85 50.50,262.04 51.05,262.22 51.60,262.45 52.15,263.49 52.70,262.98 53.20,263.26 53.70,262.91 54.20,263.20 54.70,263.10 55.20,263.11 55.70,263.43 56.20,263.48 56.70,263.90 57.20,263.68 57.70,264.02 58.20,263.98 58.70,264.19 59.20,263.85 59.75,263.35 60.30,264.29 60.85,264.53 61.40,264.57 61.95,264.27 62.50,264.55 63.05,264.06 63.60,264.91 64.20,264.90 64.80,264.84 65.40,264.87 66.00,266.10 66.50,266.66 67.00,265.96 67.50,267.20 68.00,267.12 68.65,267.30 69.30,268.43 69.95,263.12 70.60,257.88 71.25,253.23 71.90,247.46 72.50,244.21 73.10,239.58 73.75,236.40 74.40,231.96 74.90,230.25 75.40,228.00 76.30,224.11 76.90,229.00 77.40,237.06 77.70,244.86 78.00,257.81 78.20,269.43 78.80,269.91 79.40,269.14 80.00,268.92 80.54,269.55 81.08,268.87 81.62,269.07 82.16,269.32 82.70,269.56 83.24,269.02 83.78,268.88 84.32,269.87 84.86,269.21 85.40,269.98 85.95,269.73 86.50,268.92 87.05,268.84 87.60,268.73 88.15,268.70 88.70,268.46 89.25,268.24 89.80,268.13 90.32,268.62 90.84,268.20 91.36,268.20 91.88,268.65 92.40,268.17 92.92,268.35 93.44,269.26 93.96,268.81 94.48,268.94 95.00,268.39 95.50,268.86 96.00,269.04 96.50,268.35 97.00,269.05 97.50,269.05 98.00,268.34 98.50,269.01 99.00,268.80 99.50,269.03 100.00,268.62 100.50,269.10 101.00,269.19 101.50,268.38 102.00,268.48 102.50,269.27 103.00,269.66 103.50,268.86 104.00,269.16 104.50,269.37 105.00,269.10 105.50,269.20 106.00,269.19 106.50,269.31 107.00,269.63 107.40,264.75 107.60,261.81 108.20,262.35 108.60,263.85 109.00,269.85 109.57,268.53 110.13,268.76 110.70,268.54 111.27,267.61 111.83,267.09 112.40,267.36 112.91,266.76 113.42,266.76 113.93,267.13 114.44,267.52 114.96,266.87 115.47,267.21 115.98,267.29 116.49,267.96 117.00,267.56 117.53,268.10 118.05,267.32 118.58,267.57 119.10,267.99 119.62,268.32 120.15,267.84 120.67,267.62 121.20,267.54 121.70,268.28 122.20,268.13 122.70,269.12 123.20,269.42 123.70,268.89 124.20,269.55 124.40,243.53 124.60,227.54 125.00,220.88 125.60,218.13 126.10,220.88 126.50,227.54 126.70,243.53 126.90,266.08 127.42,269.06 127.93,268.79 128.45,268.92 128.97,268.30 129.48,267.97 130.00,268.10 130.53,268.69 131.05,268.05 131.57,268.13 132.10,268.21 132.62,268.20 133.15,268.17 133.67,268.78 134.20,267.85 134.73,267.69 135.25,268.85 135.78,268.80 136.31,268.96 136.84,268.32 137.36,268.97 137.89,268.97 138.42,268.16 138.95,268.81 139.47,268.95 140.00,268.77 140.51,268.60 141.02,268.32 141.53,268.38 142.04,268.25 142.55,268.06 143.06,268.68 143.57,268.32 144.08,268.95 144.59,268.03 145.10,269.06 145.64,268.76 146.19,268.98 146.73,268.90 147.28,268.85 147.82,268.42 148.37,267.69 148.91,268.52 149.46,267.78 150.00,267.88 150.56,268.24 151.11,268.00 151.67,267.79 152.23,268.34 152.79,267.87 153.34,267.47 153.90,267.29 154.44,268.10 154.98,267.73 155.52,268.18 156.06,267.75 156.60,267.65 157.14,268.14 157.68,268.56 158.22,267.87 158.76,268.70 159.30,268.95 159.83,268.84 160.36,268.89 160.89,267.95 161.41,268.72 161.94,269.04 162.47,268.09 163.00,268.39 163.54,268.40 164.09,268.72 164.63,268.61 165.17,268.68 165.71,269.06 166.26,268.14 166.80,266.17 167.20,248.37 167.30,230.03 167.80,222.18 168.20,218.76 168.70,223.05 169.10,230.03 169.50,242.25 169.90,255.00 170.50,269.93 171.00,269.50 171.50,269.47 172.00,269.38 172.50,270.44 173.00,270.27 173.50,269.33 174.00,269.80 174.50,269.43 175.00,269.29 175.50,269.19 176.00,269.40 176.50,269.18 177.00,268.77 177.50,268.42 178.00,268.44 178.50,268.05 179.00,268.42 179.50,268.69 180.00,268.36 180.50,268.07 181.00,268.27 181.50,268.57 182.00,268.93 182.50,269.21 183.00,268.86 183.20,243.78 183.40,223.01 183.80,220.05 184.30,219.68 184.80,220.61 185.10,223.01 185.40,233.22 185.70,246.42 186.00,256.98 186.30,263.14 186.85,266.23 187.40,266.67 187.95,267.33 188.50,268.08 189.05,267.74 189.60,268.07 190.15,267.79 190.70,267.53 191.25,267.88 191.80,268.07 192.35,267.33 192.90,267.75 193.60,266.66 194.00,264.76 194.54,264.87 195.07,264.24 195.61,264.91 196.15,264.82 196.69,264.23 197.23,264.52 197.76,264.15 198.30,265.03 198.85,264.74 199.40,264.91 199.95,264.70 200.50,264.45 201.05,264.43 201.60,264.13 202.15,263.47 202.70,263.96 203.27,262.42 203.83,261.76 204.40,261.68 204.93,261.90 205.47,263.06 206.00,264.17 206.50,266.16 207.00,266.36 207.50,268.20 208.00,269.36 208.50,268.68 209.00,269.73 209.50,269.71 210.00,270.08 210.50,270.22 211.00,269.77 211.50,270.04 212.00,269.12 212.50,269.18 212.60,252.30 212.80,228.46 213.30,216.58 214.10,208.33 214.70,209.45 215.40,214.79 216.30,226.49 217.00,242.03 217.60,259.44 218.00,271.26 218.51,271.26 219.01,271.26 219.52,271.26 220.02,271.26 220.53,271.26 221.03,271.26 221.54,271.26 222.04,271.26 222.55,271.26 223.05,271.26 223.56,271.26 224.06,271.26 224.57,271.26 225.07,271.26 225.58,271.26 226.08,271.26 226.59,271.26 227.09,271.26 227.60,271.24 227.80,244.40 228.50,229.08 229.30,223.53 230.00,225.71 230.70,231.23 231.50,233.39 232.40,242.46 232.80,253.90 233.30,270.36 233.81,269.94 234.32,270.27 234.83,270.57 235.33,270.90 235.84,270.20 236.35,270.14 236.86,270.23 237.37,270.68 237.88,270.86 238.39,270.44 238.90,270.42 239.40,270.46 239.91,270.42 240.42,270.51 240.93,270.12 241.44,270.63 241.95,271.21 242.46,270.54 242.97,270.96 243.47,270.26 243.98,270.91 244.49,271.00 245.00,270.91 245.50,270.72 246.00,270.67 246.50,270.86 247.00,271.16 247.50,270.26 248.00,270.19 248.50,270.97 249.00,271.17 249.50,270.68 250.00,270.59 250.50,270.92 251.00,270.28 251.50,270.37 252.00,270.28 252.50,270.74 253.00,270.41 253.50,270.31 254.00,270.86 254.50,271.17 255.00,270.38 255.50,270.86 256.00,270.50 256.50,271.03 257.00,270.70 257.50,270.31 258.00,270.25 258.50,270.01 259.00,270.55 259.50,270.43 260.00,270.17 260.50,270.39 261.00,270.34 261.50,270.87 262.00,270.11 262.55,271.11 263.10,270.48 263.65,270.60 264.20,270.42 265.00,268.57 265.20,245.17 265.50,232.63 266.30,230.02 266.80,235.13 267.30,241.57 267.80,247.55 268.30,253.53 268.90,271.42 269.40,271.42 269.90,271.43 270.40,271.44 270.90,271.45 271.40,271.46 271.90,271.47 272.40,271.48 272.90,271.49 273.40,271.50" fill="none" stroke="#3466a6" stroke-width="1.1" stroke-linejoin="round"/>
<polyline points="28.70,271.50 29.25,271.18 29.80,270.85 30.35,270.71 30.90,270.56 31.42,269.84 31.95,269.26 32.48,268.16 33.00,267.63 33.58,265.44 34.15,265.25 34.72,265.12 35.30,263.82 35.82,264.43 36.35,263.47 36.88,264.23 37.40,264.12 38.00,265.60 38.60,266.68 39.20,266.87 39.70,266.44 40.20,265.80 40.70,266.02 41.25,265.43 41.80,264.16 42.35,264.75 42.90,263.39 43.45,263.74 44.00,262.64 44.54,262.27 45.08,263.38 45.61,262.20 46.15,262.02 46.69,262.99 47.22,262.63 47.76,261.57 48.30,262.39 48.85,261.90 49.40,262.24 49.95,261.67 50.50,262.91 51.05,262.67 51.60,263.22 52.15,263.25 52.70,262.50 53.20,262.64 53.70,262.39 54.20,262.41 54.70,262.33 55.20,262.73 55.70,263.23 56.20,262.38 56.70,263.44 57.20,262.97 57.70,262.98 58.20,263.79 58.70,263.32 59.20,263.12 59.75,263.48 60.30,263.93 60.85,263.07 61.40,264.56 61.95,263.25 62.50,264.45 63.05,264.70 63.60,263.58 64.20,265.03 64.80,264.70 65.40,265.32 66.00,264.76 66.50,265.22 67.00,265.82 67.50,267.38 68.00,266.64 68.65,267.98 69.30,268.74 69.95,261.40 70.60,254.70 71.25,248.95 71.90,243.20 72.50,239.11 73.10,233.47 73.75,228.68 74.40,224.14 74.90,221.66 75.40,217.81 76.30,214.77 76.90,220.30 77.40,230.00 77.70,239.40 78.00,255.00 78.20,269.00 78.80,269.51 79.40,269.67 80.00,268.50 80.54,269.87 81.08,268.59 81.62,268.96 82.16,269.37 82.70,269.83 83.24,268.96 83.78,269.84 84.32,269.27 84.86,268.92 85.40,268.93 85.95,268.52 86.50,268.17 87.05,268.07 87.60,268.68 88.15,268.95 88.70,267.49 89.25,267.12 89.80,268.33 90.32,267.76 90.84,267.68 91.36,267.54 91.88,268.18 92.40,268.64 92.92,268.19 93.44,268.25 93.96,267.81 94.48,269.21 95.00,268.00 95.50,268.67 96.00,269.17 96.50,268.09 97.00,268.97 97.50,269.27 98.00,268.78 98.50,268.99 99.00,267.95 99.50,268.42 100.00,267.97 100.50,269.07 101.00,268.31 101.50,268.60 102.00,269.48 102.50,269.31 103.00,269.56 103.50,268.83 104.00,268.94 104.50,269.36 105.00,269.04 105.50,268.82 106.00,269.04 106.50,268.71 107.00,269.12 107.40,264.00 107.60,261.73 108.20,262.19 108.60,263.00 109.00,269.49 109.57,268.83 110.13,268.12 110.70,267.28 111.27,267.09 111.83,267.39 112.40,267.05 112.91,266.37 113.42,267.08 113.93,267.15 114.44,267.10 114.96,267.13 115.47,267.36 115.98,266.84 116.49,267.43 117.00,266.87 117.53,267.23 118.05,267.70 118.58,267.64 119.10,267.09 119.62,268.12 120.15,267.72 120.67,267.67 121.20,266.87 121.70,267.95 122.20,267.79 122.70,268.71 123.20,268.68 123.70,269.49 124.20,269.30 124.40,240.00 124.60,222.00 125.00,214.50 125.60,211.92 126.10,214.50 126.50,222.00 126.70,240.00 126.90,265.40 127.42,265.70 127.93,264.87 128.45,265.17 128.97,265.16 129.48,265.14 130.00,264.28 130.53,264.99 131.05,265.00 131.57,264.71 132.10,265.11 132.62,265.06 133.15,264.38 133.67,264.37 134.20,263.80 134.73,264.87 135.25,265.08 135.78,264.46 136.31,264.84 136.84,264.95 137.36,265.03 137.89,264.25 138.42,265.23 138.95,264.99 139.47,265.18 140.00,264.88 140.51,265.19 141.02,265.41 141.53,265.21 142.04,265.33 142.55,264.29 143.06,264.49 143.57,264.91 144.08,265.23 144.59,264.58 145.10,265.28 145.64,265.09 146.19,264.09 146.73,264.62 147.28,264.14 147.82,263.78 148.37,263.78 148.91,263.95 149.46,263.63 150.00,263.54 150.56,263.13 151.11,263.61 151.67,263.31 152.23,263.48 152.79,263.28 153.34,262.58 153.90,263.40 154.44,262.24 154.98,263.04 155.52,263.04 156.06,263.43 156.60,263.17 157.14,264.44 157.68,263.94 158.22,263.62 158.76,264.68 159.30,264.09 159.83,264.84 160.36,264.60 160.89,265.04 161.41,265.67 161.94,265.53 162.47,265.01 163.00,265.67 163.54,265.44 164.09,265.06 164.63,264.75 165.17,265.46 165.71,265.44 166.26,266.06 166.80,265.40 167.20,245.00 167.30,224.00 167.80,215.00 168.20,212.40 168.70,216.00 169.10,224.00 169.50,238.00 169.90,252.60 170.50,269.70 171.00,269.83 171.50,269.42 172.00,270.20 172.50,268.84 173.00,268.97 173.50,269.63 174.00,269.67 174.50,268.79 175.00,269.35 175.50,269.58 176.00,268.63 176.50,268.55 177.00,268.07 177.50,268.00 178.00,268.85 178.50,267.79 179.00,268.49 179.50,268.51 180.00,268.12 180.50,267.70 181.00,268.87 181.50,268.23 182.00,268.20 182.50,268.14 183.00,268.50 183.20,240.00 183.40,216.40 183.80,213.93 184.30,212.19 184.80,213.18 185.10,216.40 185.40,228.00 185.70,243.00 186.00,255.00 186.30,262.00 186.85,262.82 187.40,263.13 187.95,264.73 188.50,265.32 189.05,265.09 189.60,265.82 190.15,265.89 190.70,264.67 191.25,265.45 191.80,265.06 192.35,266.05 192.90,265.82 193.60,261.62 194.00,256.75 194.54,256.67 195.07,258.01 195.61,257.05 196.15,257.61 196.69,257.50 197.23,257.84 197.76,257.87 198.30,258.17 198.85,257.03 199.40,257.79 199.95,256.90 200.50,257.05 201.05,256.55 201.60,256.30 202.15,256.44 202.70,256.15 203.27,254.32 203.83,253.23 204.40,251.34 204.93,252.70 205.47,255.23 206.00,257.73 206.50,260.52 207.00,262.58 207.50,267.67 208.00,267.13 208.50,268.54 209.00,268.27 209.50,268.75 210.00,269.21 210.50,269.10 211.00,268.87 211.50,269.52 212.00,268.73 212.50,268.90 212.60,250.00 212.80,223.30 213.30,210.00 214.10,200.24 214.70,202.53 215.40,208.00 216.30,221.10 217.00,238.50 217.60,258.00 218.00,271.20 218.51,271.20 219.01,271.20 219.52,271.20 220.02,271.20 220.53,271.20 221.03,271.20 221.54,271.20 222.04,271.20 222.55,271.20 223.05,271.20 223.56,271.20 224.06,271.20 224.57,271.20 225.07,271.20 225.58,271.20 226.08,271.20 226.59,271.20 227.09,271.20 227.60,271.20 227.80,240.70 228.50,223.30 229.30,216.24 230.00,219.69 230.70,225.90 231.50,226.95 232.40,238.50 232.80,251.50 233.30,270.20 233.81,270.72 234.32,270.52 234.83,270.14 235.33,269.93 235.84,270.69 236.35,270.89 236.86,269.76 237.37,270.27 237.88,270.39 238.39,270.33 238.90,270.09 239.40,269.84 239.91,270.50 240.42,270.85 240.93,269.75 241.44,270.00 241.95,270.90 242.46,270.87 242.97,270.69 243.47,269.75 243.98,270.81 244.49,271.20 245.00,271.25 245.50,270.80 246.00,269.81 246.50,271.00 247.00,270.06 247.50,270.69 248.00,271.15 248.50,270.78 249.00,269.91 249.50,270.14 250.00,271.08 250.50,269.92 251.00,270.61 251.50,270.31 252.00,269.92 252.50,270.61 253.00,269.74 253.50,269.83 254.00,270.23 254.50,269.76 255.00,269.74 255.50,270.51 256.00,270.75 256.50,270.95 257.00,269.82 257.50,270.26 258.00,270.08 258.50,270.50 259.00,270.33 259.50,270.99 260.00,270.14 260.50,269.66 261.00,270.61 261.50,269.78 262.00,270.50 262.55,270.28 263.10,270.87 263.65,270.31 264.20,270.38 265.00,268.00 265.20,240.00 265.50,225.00 266.30,221.04 266.80,228.00 267.30,235.70 267.80,242.85 268.30,250.00 268.90,271.40 269.40,271.41 269.90,271.42 270.40,271.43 270.90,271.44 271.40,271.46 271.90,271.47 272.40,271.48 272.90,271.49 273.40,271.50" fill="none" stroke="#ec8526" stroke-width="1.1" stroke-linejoin="round"/>
<line x1="200.60" y1="220.70" x2="200.60" y2="235.50" stroke="#111" stroke-width="0.9"/>
<polygon points="197.2,232.6 204.2,232.6 200.7,244.6" fill="#111"/>
<rect x="220.7" y="186.3" width="71.8" height="14.7" rx="0.8" fill="#fff" stroke="#8c8c8c" stroke-width="0.7"/>
<line x1="226.20" y1="193.60" x2="238.00" y2="193.60" stroke="#3466a6" stroke-width="1.4"/>
<text x="243.30" y="195.80" font-size="6.2" fill="#1f1f1f" text-anchor="start" font-weight="normal" font-style="normal">CTL</text>
<line x1="260.90" y1="193.60" x2="271.80" y2="193.60" stroke="#ec8526" stroke-width="1.4"/>
<text x="277.40" y="195.80" font-size="6.2" fill="#1f1f1f" text-anchor="start" font-weight="normal" font-style="normal">T1D</text>
<line x1="28.80" y1="309.45" x2="269.70" y2="309.45" stroke="#111" stroke-width="0.8"/>
<line x1="68.90" y1="315.50" x2="269.70" y2="315.50" stroke="#111" stroke-width="0.8"/>
<rect x="28.80" y="307.60" width="49.30" height="3.7" rx="0.4" fill="#000"/>
<rect x="124.90" y="307.60" width="1.80" height="3.7" rx="0.4" fill="#000"/>
<rect x="166.90" y="307.60" width="3.20" height="3.7" rx="0.4" fill="#000"/>
<rect x="182.90" y="307.60" width="3.20" height="3.7" rx="0.4" fill="#000"/>
<rect x="212.80" y="307.60" width="5.40" height="3.7" rx="0.4" fill="#000"/>
<rect x="228.20" y="307.60" width="5.10" height="3.7" rx="0.4" fill="#000"/>
<rect x="265.30" y="307.60" width="4.40" height="3.7" rx="0.4" fill="#000"/>
<rect x="68.90" y="313.75" width="9.20" height="3.5" rx="0.4" fill="#000"/>
<rect x="124.90" y="313.75" width="1.80" height="3.5" rx="0.4" fill="#000"/>
<rect x="166.90" y="313.75" width="3.20" height="3.5" rx="0.4" fill="#000"/>
<rect x="182.90" y="313.75" width="35.30" height="3.5" rx="0.4" fill="#000"/>
<rect x="228.20" y="313.75" width="5.10" height="3.5" rx="0.4" fill="#000"/>
<rect x="265.30" y="313.75" width="4.40" height="3.5" rx="0.4" fill="#000"/>
<text x="54.30" y="306.00" font-size="5.6" fill="#e8332a" text-anchor="middle" font-weight="normal" font-style="normal">7</text>
<text x="125.80" y="306.00" font-size="5.6" fill="#e8332a" text-anchor="middle" font-weight="normal" font-style="normal">6</text>
<text x="168.30" y="306.00" font-size="5.6" fill="#e8332a" text-anchor="middle" font-weight="normal" font-style="normal">5</text>
<text x="184.40" y="306.00" font-size="5.6" fill="#e8332a" text-anchor="middle" font-weight="normal" font-style="normal">4</text>
<text x="215.40" y="306.00" font-size="5.6" fill="#e8332a" text-anchor="middle" font-weight="normal" font-style="normal">3</text>
<text x="230.50" y="306.00" font-size="5.6" fill="#e8332a" text-anchor="middle" font-weight="normal" font-style="normal">2</text>
<text x="267.40" y="306.00" font-size="5.6" fill="#e8332a" text-anchor="middle" font-weight="normal" font-style="normal">1</text>
<text x="276.60" y="311.30" font-size="7.6" fill="#1f1f1f" text-anchor="start" font-weight="normal" font-style="italic">SRSF7.c</text>
<text x="276.60" y="317.90" font-size="7.6" fill="#1f1f1f" text-anchor="start" font-weight="normal" font-style="italic">SRSF7.l</text>
<text x="367.70" y="171.30" font-size="8.1" fill="#111" text-anchor="start" font-weight="normal" font-style="normal">CTL</text>
<line x1="362.60" y1="176.00" x2="362.60" y2="223.40" stroke="#444" stroke-width="0.7"/>
<line x1="361.00" y1="223.00" x2="362.60" y2="223.00" stroke="#444" stroke-width="0.6"/>
<text x="359.70" y="224.90" font-size="5.3" fill="#3a3a3a" text-anchor="end" font-weight="normal" font-style="normal">0</text>
<line x1="361.00" y1="213.70" x2="362.60" y2="213.70" stroke="#444" stroke-width="0.6"/>
<text x="359.70" y="215.60" font-size="5.3" fill="#3a3a3a" text-anchor="end" font-weight="normal" font-style="normal">100</text>
<line x1="361.00" y1="204.40" x2="362.60" y2="204.40" stroke="#444" stroke-width="0.6"/>
<text x="359.70" y="206.30" font-size="5.3" fill="#3a3a3a" text-anchor="end" font-weight="normal" font-style="normal">200</text>
<line x1="361.00" y1="195.10" x2="362.60" y2="195.10" stroke="#444" stroke-width="0.6"/>
<text x="359.70" y="197.00" font-size="5.3" fill="#3a3a3a" text-anchor="end" font-weight="normal" font-style="normal">300</text>
<line x1="361.00" y1="185.80" x2="362.60" y2="185.80" stroke="#444" stroke-width="0.6"/>
<text x="359.70" y="187.70" font-size="5.3" fill="#3a3a3a" text-anchor="end" font-weight="normal" font-style="normal">400</text>
<line x1="361.00" y1="176.50" x2="362.60" y2="176.50" stroke="#444" stroke-width="0.6"/>
<text x="359.70" y="178.40" font-size="5.3" fill="#3a3a3a" text-anchor="end" font-weight="normal" font-style="normal">500</text>
<text transform="translate(338.3,200.2) rotate(-90)" font-size="6.4" fill="#2a2a2a" text-anchor="middle">Average depth per</text>
<text transform="translate(346.4,200.2) rotate(-90)" font-size="6.4" fill="#2a2a2a" text-anchor="middle">nucleotide</text>
<line x1="362.60" y1="222.90" x2="673.00" y2="222.90" stroke="#c8cdd6" stroke-width="0.7"/>
<path d="M362.80,222.90 L362.80,221.80 L363.00,221.79 L364.24,221.83 L365.48,221.95 L366.71,221.82 L367.95,221.84 L369.19,221.87 L370.43,221.76 L371.67,221.87 L372.90,221.92 L374.14,221.97 L375.38,221.77 L376.62,221.85 L377.86,221.79 L379.10,222.02 L380.33,221.99 L381.57,221.81 L382.81,222.10 L384.05,222.10 L385.29,222.02 L386.52,222.02 L387.76,221.89 L389.00,221.85 L389.20,200.20 L389.20,200.20 L390.00,197.00 L391.40,192.90 L393.00,189.60 L395.50,187.60 L401.20,188.00 L403.70,189.60 L405.30,191.20 L406.20,192.00 L406.40,192.00 L406.50,220.70 L406.60,220.69 L407.60,220.77 L408.61,220.80 L409.61,220.67 L410.62,220.65 L411.62,220.79 L412.62,220.78 L413.63,220.96 L414.63,220.95 L415.63,220.95 L416.64,220.96 L417.64,221.02 L418.65,220.89 L419.65,221.00 L420.65,220.94 L421.66,221.19 L422.66,220.96 L423.66,221.21 L424.67,221.01 L425.67,221.22 L426.68,221.14 L427.68,221.19 L428.68,221.34 L429.69,221.12 L430.69,221.16 L431.69,221.44 L432.70,221.34 L433.70,221.24 L434.71,221.53 L435.71,221.55 L436.71,221.32 L437.72,221.44 L438.72,221.38 L439.72,221.45 L440.73,221.57 L441.73,221.46 L442.74,221.64 L443.74,221.47 L444.74,221.53 L445.75,221.75 L446.75,221.65 L447.75,221.68 L448.76,221.76 L449.76,221.75 L450.77,221.74 L451.77,221.66 L452.77,221.90 L453.78,221.99 L454.78,222.02 L455.78,221.95 L456.79,221.88 L457.79,221.91 L458.80,222.03 L459.80,222.05 L460.00,219.40 L460.10,219.27 L460.60,219.41 L461.10,219.31 L461.61,219.31 L462.11,218.85 L462.61,218.78 L463.11,218.64 L463.61,218.59 L464.12,218.78 L464.62,218.34 L465.12,218.48 L465.62,218.20 L466.12,218.15 L466.63,218.14 L467.13,218.27 L467.63,218.05 L468.13,217.63 L468.63,217.77 L469.14,217.68 L469.64,218.08 L470.14,218.04 L470.64,218.03 L471.14,218.03 L471.65,217.98 L472.15,218.08 L472.65,217.99 L473.15,217.68 L473.65,218.00 L474.16,217.79 L474.66,217.93 L475.16,217.82 L475.66,217.73 L476.16,217.69 L476.67,217.72 L477.17,217.64 L477.67,217.53 L478.17,217.91 L478.67,217.89 L479.18,217.99 L479.68,217.81 L480.18,217.73 L480.68,217.85 L481.18,217.52 L481.69,217.83 L482.19,217.71 L482.69,217.57 L483.19,217.59 L483.69,217.78 L484.20,217.64 L484.70,217.76 L485.20,217.86 L485.70,217.75 L486.20,217.61 L486.71,217.82 L487.21,217.69 L487.71,217.70 L488.21,217.68 L488.71,217.79 L489.22,217.63 L489.72,217.97 L490.22,218.14 L490.72,217.84 L491.22,218.03 L491.73,218.16 L492.23,217.67 L492.73,217.74 L493.23,218.12 L493.73,218.15 L494.24,218.04 L494.74,217.78 L495.24,217.94 L495.74,218.20 L496.24,218.21 L496.75,218.15 L497.25,217.80 L497.75,218.15 L498.25,217.87 L498.75,218.04 L499.26,217.71 L499.76,218.16 L500.26,217.94 L500.76,217.99 L501.26,217.69 L501.77,217.90 L502.27,217.87 L502.77,217.86 L503.27,217.72 L503.77,217.91 L504.28,217.68 L504.78,217.64 L505.28,217.55 L505.78,217.83 L506.28,217.49 L506.79,217.54 L507.29,217.44 L507.79,217.74 L508.29,217.68 L508.79,217.66 L509.30,217.36 L509.80,217.57 L510.30,217.52 L510.80,217.40 L511.31,217.37 L511.81,217.95 L512.31,217.48 L512.81,217.60 L513.31,217.61 L513.82,217.81 L514.32,217.54 L514.82,217.78 L515.32,217.75 L515.82,218.03 L516.33,217.58 L516.83,217.79 L517.33,217.90 L517.83,218.19 L518.33,217.95 L518.84,217.95 L519.34,218.08 L519.84,217.89 L520.34,217.77 L520.84,218.05 L521.35,218.30 L521.85,218.23 L522.35,217.93 L522.85,218.11 L523.35,218.15 L523.86,217.76 L524.36,217.88 L524.86,217.70 L525.36,217.58 L525.86,217.54 L526.37,217.44 L526.87,217.46 L527.37,217.23 L527.87,217.38 L528.37,217.14 L528.88,217.46 L529.38,217.32 L529.88,216.93 L530.38,217.30 L530.88,216.91 L531.39,217.02 L531.89,217.00 L532.39,216.82 L532.89,216.74 L533.39,216.76 L533.90,216.54 L534.40,216.89 L534.90,216.41 L535.40,216.75 L535.90,216.36 L536.41,216.37 L536.91,216.39 L537.41,216.17 L537.91,216.20 L538.41,216.30 L538.92,216.32 L539.42,216.54 L539.92,216.58 L540.42,216.02 L540.92,216.27 L541.43,216.02 L541.93,216.37 L542.43,216.17 L542.93,216.57 L543.43,216.45 L543.94,216.30 L544.44,216.31 L544.94,216.53 L545.44,216.95 L545.94,216.63 L546.45,216.90 L546.95,216.92 L547.45,216.98 L547.95,217.32 L548.45,217.07 L548.96,217.43 L549.46,217.48 L549.96,217.72 L550.46,217.56 L550.96,217.87 L551.47,217.68 L551.97,217.83 L552.47,217.94 L552.97,218.13 L553.47,218.24 L553.98,217.88 L554.48,217.97 L554.98,218.27 L555.48,218.50 L555.98,218.42 L556.49,218.36 L556.99,218.81 L557.49,218.51 L557.99,218.47 L558.49,218.52 L559.00,218.59 L559.50,219.05 L560.00,218.78 L560.30,221.90 L560.50,221.81 L561.50,221.95 L562.51,221.94 L563.51,222.01 L564.51,221.86 L565.51,221.85 L566.52,221.97 L567.52,221.96 L568.52,221.87 L569.52,221.97 L570.53,221.90 L571.53,221.99 L572.53,221.84 L573.53,221.87 L574.54,222.03 L575.54,221.90 L576.54,221.88 L577.54,222.02 L578.55,221.98 L579.55,221.86 L580.55,221.96 L581.55,221.99 L582.56,221.88 L583.56,222.00 L584.56,221.87 L585.56,221.92 L586.57,221.87 L587.57,221.90 L588.57,222.09 L589.57,221.95 L590.58,222.09 L591.58,221.96 L592.58,222.01 L593.58,222.07 L594.59,222.03 L595.59,221.90 L596.59,222.01 L597.59,222.03 L598.60,221.92 L599.60,221.90 L599.80,197.70 L600.00,198.44 L600.45,195.66 L600.91,195.56 L601.36,193.37 L601.82,193.44 L602.27,191.07 L602.73,191.71 L603.18,190.64 L603.64,190.17 L604.09,189.65 L604.55,187.92 L605.00,187.62 L605.46,187.75 L605.91,186.61 L606.37,186.13 L606.82,185.61 L607.27,186.16 L607.73,185.72 L608.18,185.14 L608.64,183.76 L609.09,184.23 L609.55,182.91 L610.00,181.81 L610.46,181.34 L610.91,180.37 L611.37,178.90 L611.82,179.20 L612.28,179.15 L612.73,179.75 L613.18,180.92 L613.64,181.14 L614.09,180.93 L614.55,181.45 L615.00,181.44 L615.46,180.42 L615.91,180.90 L616.37,179.18 L616.82,179.13 L617.28,178.94 L617.73,179.90 L618.19,179.18 L618.64,178.90 L619.10,177.88 L619.55,178.66 L620.00,179.79 L620.46,179.03 L620.91,179.48 L621.37,179.80 L621.82,180.90 L622.28,181.87 L622.73,181.73 L623.19,181.79 L623.64,182.27 L624.10,182.06 L624.55,183.70 L625.01,183.23 L625.46,183.52 L625.92,184.11 L626.37,185.41 L626.82,185.05 L627.28,186.43 L627.73,185.96 L628.19,186.57 L628.64,186.43 L629.10,188.10 L629.55,188.23 L630.01,188.03 L630.46,187.77 L630.92,188.68 L631.37,189.23 L631.83,190.72 L632.28,191.61 L632.73,192.06 L633.19,192.08 L633.64,192.98 L634.10,195.69 L634.55,197.12 L635.01,196.93 L635.46,198.40 L635.92,199.29 L636.37,200.83 L636.83,199.79 L637.28,200.28 L637.74,202.08 L638.19,202.98 L638.65,204.15 L639.10,205.44 L639.20,222.90 L639.20,222.90 Z" fill="#30618f"/>
<path d="M405.6,191.8 C411,183 436,175.5 488.1,175.4" fill="none" stroke="#30618f" stroke-width="1.8"/>
<path d="M524.3,175.2 C552,175.6 585,181.5 599.8,204" fill="none" stroke="#30618f" stroke-width="1.8"/>
<text x="505.50" y="175.30" font-size="7.9" fill="#30618f" text-anchor="middle" font-weight="bold" font-style="normal">81.02</text>
<text x="505.50" y="184.80" font-size="7.9" fill="#30618f" text-anchor="middle" font-weight="bold" font-style="normal">± 17.45</text>
<text x="625.10" y="173.30" font-size="9.2" fill="#1f1f1f" text-anchor="start" font-weight="normal" font-style="normal">Ψ</text>
<text x="632.80" y="176.20" font-size="5.0" fill="#2a2a2a" text-anchor="start" font-weight="normal" font-style="normal">CTL</text>
<text x="672.60" y="173.30" font-size="9.2" fill="#1f1f1f" text-anchor="end" font-weight="normal" font-style="normal">= 31.94</text>
<text x="367.80" y="244.70" font-size="8.1" fill="#111" text-anchor="start" font-weight="normal" font-style="normal">T1D</text>
<line x1="362.80" y1="243.80" x2="362.80" y2="301.10" stroke="#444" stroke-width="0.7"/>
<line x1="361.20" y1="301.10" x2="362.80" y2="301.10" stroke="#444" stroke-width="0.6"/>
<text x="359.90" y="303.00" font-size="5.3" fill="#3a3a3a" text-anchor="end" font-weight="normal" font-style="normal">0</text>
<line x1="361.20" y1="291.80" x2="362.80" y2="291.80" stroke="#444" stroke-width="0.6"/>
<text x="359.90" y="293.70" font-size="5.3" fill="#3a3a3a" text-anchor="end" font-weight="normal" font-style="normal">100</text>
<line x1="361.20" y1="282.50" x2="362.80" y2="282.50" stroke="#444" stroke-width="0.6"/>
<text x="359.90" y="284.40" font-size="5.3" fill="#3a3a3a" text-anchor="end" font-weight="normal" font-style="normal">200</text>
<line x1="361.20" y1="273.20" x2="362.80" y2="273.20" stroke="#444" stroke-width="0.6"/>
<text x="359.90" y="275.10" font-size="5.3" fill="#3a3a3a" text-anchor="end" font-weight="normal" font-style="normal">300</text>
<line x1="361.20" y1="263.90" x2="362.80" y2="263.90" stroke="#444" stroke-width="0.6"/>
<text x="359.90" y="265.80" font-size="5.3" fill="#3a3a3a" text-anchor="end" font-weight="normal" font-style="normal">400</text>
<line x1="361.20" y1="254.60" x2="362.80" y2="254.60" stroke="#444" stroke-width="0.6"/>
<text x="359.90" y="256.50" font-size="5.3" fill="#3a3a3a" text-anchor="end" font-weight="normal" font-style="normal">500</text>
<text transform="translate(338.3,272.6) rotate(-90)" font-size="6.4" fill="#2a2a2a" text-anchor="middle">Average depth per</text>
<text transform="translate(346.4,272.6) rotate(-90)" font-size="6.4" fill="#2a2a2a" text-anchor="middle">nucleotide</text>
<path d="M362.80,301.00 L362.80,299.00 L363.00,298.90 L364.24,299.10 L365.48,299.12 L366.71,299.11 L367.95,299.07 L369.19,299.28 L370.43,299.32 L371.67,299.27 L372.90,299.31 L374.14,299.26 L375.38,299.23 L376.62,299.38 L377.86,299.48 L379.10,299.37 L380.33,299.62 L381.57,299.49 L382.81,299.53 L384.05,299.51 L385.29,299.83 L386.52,299.80 L387.76,299.87 L389.00,299.83 L389.20,275.20 L389.20,275.20 L390.00,272.00 L390.60,269.50 L392.20,263.00 L394.70,260.00 L399.60,259.40 L402.00,260.00 L404.50,262.10 L406.20,263.80 L406.40,263.80 L406.50,295.10 L406.60,295.24 L407.60,295.05 L408.61,295.07 L409.61,295.41 L410.62,295.22 L411.62,295.26 L412.62,295.47 L413.63,295.44 L414.63,295.65 L415.63,295.51 L416.64,295.79 L417.64,295.65 L418.65,295.79 L419.65,295.94 L420.65,295.92 L421.66,296.05 L422.66,296.04 L423.66,295.89 L424.67,296.20 L425.67,296.17 L426.68,296.14 L427.68,296.16 L428.68,296.41 L429.69,296.38 L430.69,296.54 L431.69,296.55 L432.70,296.66 L433.70,296.60 L434.71,296.69 L435.71,296.72 L436.71,296.67 L437.72,296.93 L438.72,296.79 L439.72,296.99 L440.73,297.10 L441.73,297.06 L442.74,296.96 L443.74,297.22 L444.74,297.23 L445.75,297.14 L446.75,297.15 L447.75,297.35 L448.76,297.26 L449.76,297.58 L450.77,297.51 L451.77,297.57 L452.77,297.59 L453.78,297.72 L454.78,297.85 L455.78,297.72 L456.79,297.80 L457.79,297.92 L458.80,297.88 L459.80,298.03 L460.00,294.10 L460.10,294.61 L460.60,294.46 L461.10,294.22 L461.61,293.07 L462.11,293.51 L462.61,293.13 L463.11,293.08 L463.61,292.43 L464.12,292.32 L464.62,292.45 L465.12,292.01 L465.62,292.11 L466.12,291.42 L466.63,291.32 L467.13,291.89 L467.63,291.37 L468.13,291.31 L468.63,291.56 L469.14,291.09 L469.64,290.70 L470.14,291.55 L470.64,291.30 L471.14,291.36 L471.65,291.30 L472.15,291.70 L472.65,290.95 L473.15,291.40 L473.65,290.91 L474.16,291.13 L474.66,291.22 L475.16,290.78 L475.66,290.49 L476.16,290.93 L476.67,291.20 L477.17,291.03 L477.67,290.84 L478.17,291.05 L478.67,290.48 L479.18,290.45 L479.68,290.60 L480.18,291.18 L480.68,290.44 L481.18,290.35 L481.69,290.34 L482.19,290.28 L482.69,290.57 L483.19,290.93 L483.69,291.24 L484.20,290.66 L484.70,290.71 L485.20,290.62 L485.70,290.65 L486.20,291.23 L486.71,290.96 L487.21,290.62 L487.71,290.44 L488.21,291.26 L488.71,291.18 L489.22,291.33 L489.72,290.63 L490.22,291.01 L490.72,291.46 L491.22,291.08 L491.73,291.51 L492.23,290.58 L492.73,291.56 L493.23,290.46 L493.73,290.90 L494.24,290.44 L494.74,291.39 L495.24,291.25 L495.74,291.60 L496.24,291.41 L496.75,291.59 L497.25,291.10 L497.75,291.65 L498.25,291.37 L498.75,290.90 L499.26,291.66 L499.76,290.95 L500.26,290.75 L500.76,290.64 L501.26,291.14 L501.77,290.85 L502.27,291.77 L502.77,291.83 L503.27,290.98 L503.77,290.88 L504.28,291.42 L504.78,291.03 L505.28,291.51 L505.78,291.87 L506.28,291.23 L506.79,291.47 L507.29,292.08 L507.79,291.57 L508.29,291.48 L508.79,292.17 L509.30,292.11 L509.80,292.24 L510.30,292.03 L510.80,291.73 L511.31,292.11 L511.81,292.30 L512.31,292.11 L512.81,291.66 L513.31,291.77 L513.82,291.94 L514.32,292.41 L514.82,292.18 L515.32,292.21 L515.82,292.58 L516.33,291.68 L516.83,292.21 L517.33,291.76 L517.83,291.94 L518.33,292.18 L518.84,291.39 L519.34,292.14 L519.84,291.00 L520.34,291.49 L520.84,291.37 L521.35,290.91 L521.85,291.21 L522.35,291.01 L522.85,290.89 L523.35,291.12 L523.86,290.17 L524.36,290.53 L524.86,290.92 L525.36,290.06 L525.86,290.84 L526.37,289.95 L526.87,290.43 L527.37,289.73 L527.87,289.97 L528.37,289.86 L528.88,289.39 L529.38,290.06 L529.88,289.73 L530.38,289.91 L530.88,289.67 L531.39,289.62 L531.89,289.52 L532.39,289.18 L532.89,289.83 L533.39,288.79 L533.90,289.67 L534.40,289.59 L534.90,289.08 L535.40,289.35 L535.90,289.16 L536.41,289.01 L536.91,288.57 L537.41,288.41 L537.91,288.21 L538.41,287.92 L538.92,288.48 L539.42,287.51 L539.92,287.33 L540.42,287.14 L540.92,287.38 L541.43,286.75 L541.93,286.61 L542.43,286.32 L542.93,286.48 L543.43,286.39 L543.94,286.68 L544.44,286.87 L544.94,287.72 L545.44,287.43 L545.94,287.10 L546.45,287.66 L546.95,287.38 L547.45,288.06 L547.95,288.04 L548.45,288.68 L548.96,288.10 L549.46,289.04 L549.96,288.56 L550.46,289.68 L550.96,289.51 L551.47,289.04 L551.97,290.21 L552.47,289.81 L552.97,290.16 L553.47,290.15 L553.98,291.22 L554.48,290.57 L554.98,291.59 L555.48,291.42 L555.98,292.01 L556.49,291.72 L556.99,291.64 L557.49,292.82 L557.99,292.68 L558.49,292.28 L559.00,293.42 L559.50,293.52 L560.00,292.82 L560.30,298.90 L560.50,298.95 L561.50,298.99 L562.51,298.84 L563.51,299.05 L564.51,298.87 L565.51,298.99 L566.52,298.86 L567.52,299.03 L568.52,298.90 L569.52,299.04 L570.53,299.06 L571.53,299.08 L572.53,299.01 L573.53,299.12 L574.54,299.16 L575.54,298.96 L576.54,299.07 L577.54,299.18 L578.55,299.14 L579.55,299.08 L580.55,299.06 L581.55,299.22 L582.56,299.03 L583.56,299.20 L584.56,299.23 L585.56,299.07 L586.57,299.13 L587.57,299.13 L588.57,299.20 L589.57,299.17 L590.58,299.30 L591.58,299.32 L592.58,299.18 L593.58,299.33 L594.59,299.15 L595.59,299.16 L596.59,299.31 L597.59,299.35 L598.60,299.37 L599.60,299.42 L599.80,273.20 L600.00,273.00 L600.45,272.34 L600.91,270.67 L601.36,268.12 L601.82,267.78 L602.27,266.37 L602.73,264.38 L603.18,264.81 L603.64,262.65 L604.09,261.70 L604.55,261.18 L605.00,260.81 L605.46,259.44 L605.91,259.71 L606.37,259.31 L606.82,258.20 L607.27,258.07 L607.73,257.22 L608.18,256.95 L608.64,255.34 L609.09,255.03 L609.55,254.25 L610.00,252.70 L610.46,253.13 L610.91,251.85 L611.37,250.39 L611.82,250.57 L612.28,251.06 L612.73,251.55 L613.18,252.28 L613.64,252.99 L614.09,252.59 L614.55,253.61 L615.00,253.45 L615.46,252.54 L615.91,253.44 L616.37,251.81 L616.82,251.72 L617.28,252.45 L617.73,251.15 L618.19,251.13 L618.64,251.01 L619.10,250.46 L619.55,250.59 L620.00,251.00 L620.46,251.35 L620.91,251.05 L621.37,252.68 L621.82,252.26 L622.28,252.32 L622.73,253.33 L623.19,254.42 L623.64,254.56 L624.10,254.56 L624.55,254.86 L625.01,254.71 L625.46,255.75 L625.92,255.90 L626.37,256.02 L626.82,256.71 L627.28,257.23 L627.73,258.76 L628.19,259.85 L628.64,260.42 L629.10,260.35 L629.55,261.01 L630.01,263.08 L630.46,263.02 L630.92,263.58 L631.37,265.11 L631.83,266.08 L632.28,266.84 L632.73,267.65 L633.19,268.60 L633.64,270.10 L634.10,271.23 L634.55,272.45 L635.01,272.82 L635.46,273.42 L635.92,275.17 L636.37,274.52 L636.83,276.28 L637.28,276.42 L637.74,277.72 L638.19,278.24 L638.65,278.37 L639.10,278.68 L639.20,301.00 L639.20,301.00 Z" fill="#e07f22"/>
<line x1="362.80" y1="301.20" x2="672.70" y2="301.20" stroke="#999" stroke-width="0.9"/>
<path d="M405.6,263.5 C411,254.5 436,245 485,245.6" fill="none" stroke="#e07f22" stroke-width="1.8"/>
<path d="M521.2,245.4 C550,245.9 585,252 599.8,275" fill="none" stroke="#e07f22" stroke-width="1.8"/>
<text x="503.10" y="248.00" font-size="7.9" fill="#e07f22" text-anchor="middle" font-weight="bold" font-style="normal">78.37</text>
<text x="503.10" y="257.50" font-size="7.9" fill="#e07f22" text-anchor="middle" font-weight="bold" font-style="normal">± 13.85</text>
<text x="624.90" y="244.40" font-size="9.2" fill="#1f1f1f" text-anchor="start" font-weight="normal" font-style="normal">Ψ</text>
<text x="631.80" y="247.40" font-size="5.0" fill="#2a2a2a" text-anchor="start" font-weight="normal" font-style="normal">T1D</text>
<text x="672.80" y="244.40" font-size="9.2" fill="#1f1f1f" text-anchor="end" font-weight="normal" font-style="normal">= 43.36</text>
<text x="603.50" y="313.80" font-size="9.2" fill="#1f1f1f" text-anchor="start" font-weight="normal" font-style="normal">ΔΨ</text>
<text x="617.40" y="316.60" font-size="5.2" fill="#2a2a2a" text-anchor="start" font-weight="normal" font-style="normal">T1D - CTL</text>
<text x="672.80" y="313.80" font-size="9.2" fill="#1f1f1f" text-anchor="end" font-weight="normal" font-style="normal">= 11.43</text>
<text x="451.30" y="308.40" font-size="5.6" fill="#1f1f1f" text-anchor="middle" font-weight="normal" font-style="normal">38976000</text>
<text x="562.20" y="308.40" font-size="5.6" fill="#1f1f1f" text-anchor="middle" font-weight="normal" font-style="normal">38976500</text>
<text x="510.30" y="317.20" font-size="6.3" fill="#151515" text-anchor="middle" font-weight="normal" font-style="normal">Position on chromosome 2</text>
<text x="366.70" y="340.10" font-size="7.45" fill="#151515" text-anchor="end" font-weight="normal" font-style="italic">SRSF7.lAug10</text>
<text x="366.70" y="351.50" font-size="7.45" fill="#151515" text-anchor="end" font-weight="normal" font-style="italic">SRSF7.cAug10</text>
<text x="366.7" y="363.2" font-size="7.45" fill="#b5478f" text-anchor="end"><tspan font-style="italic">SRSF7</tspan> PCE</text>
<line x1="370.20" y1="337.90" x2="672.70" y2="337.90" stroke="#222" stroke-width="0.9"/>
<line x1="370.20" y1="349.10" x2="672.70" y2="349.10" stroke="#222" stroke-width="0.9"/>
<rect x="389.20" y="335.10" width="249.90" height="5.70" fill="#000"/>
<rect x="389.20" y="346.30" width="16.70" height="5.60" fill="#000"/>
<rect x="599.90" y="346.30" width="39.20" height="5.60" fill="#000"/>
<rect x="459.00" y="361.20" width="100.60" height="4.70" fill="#b5478f"/>
</svg>
</body></html>
